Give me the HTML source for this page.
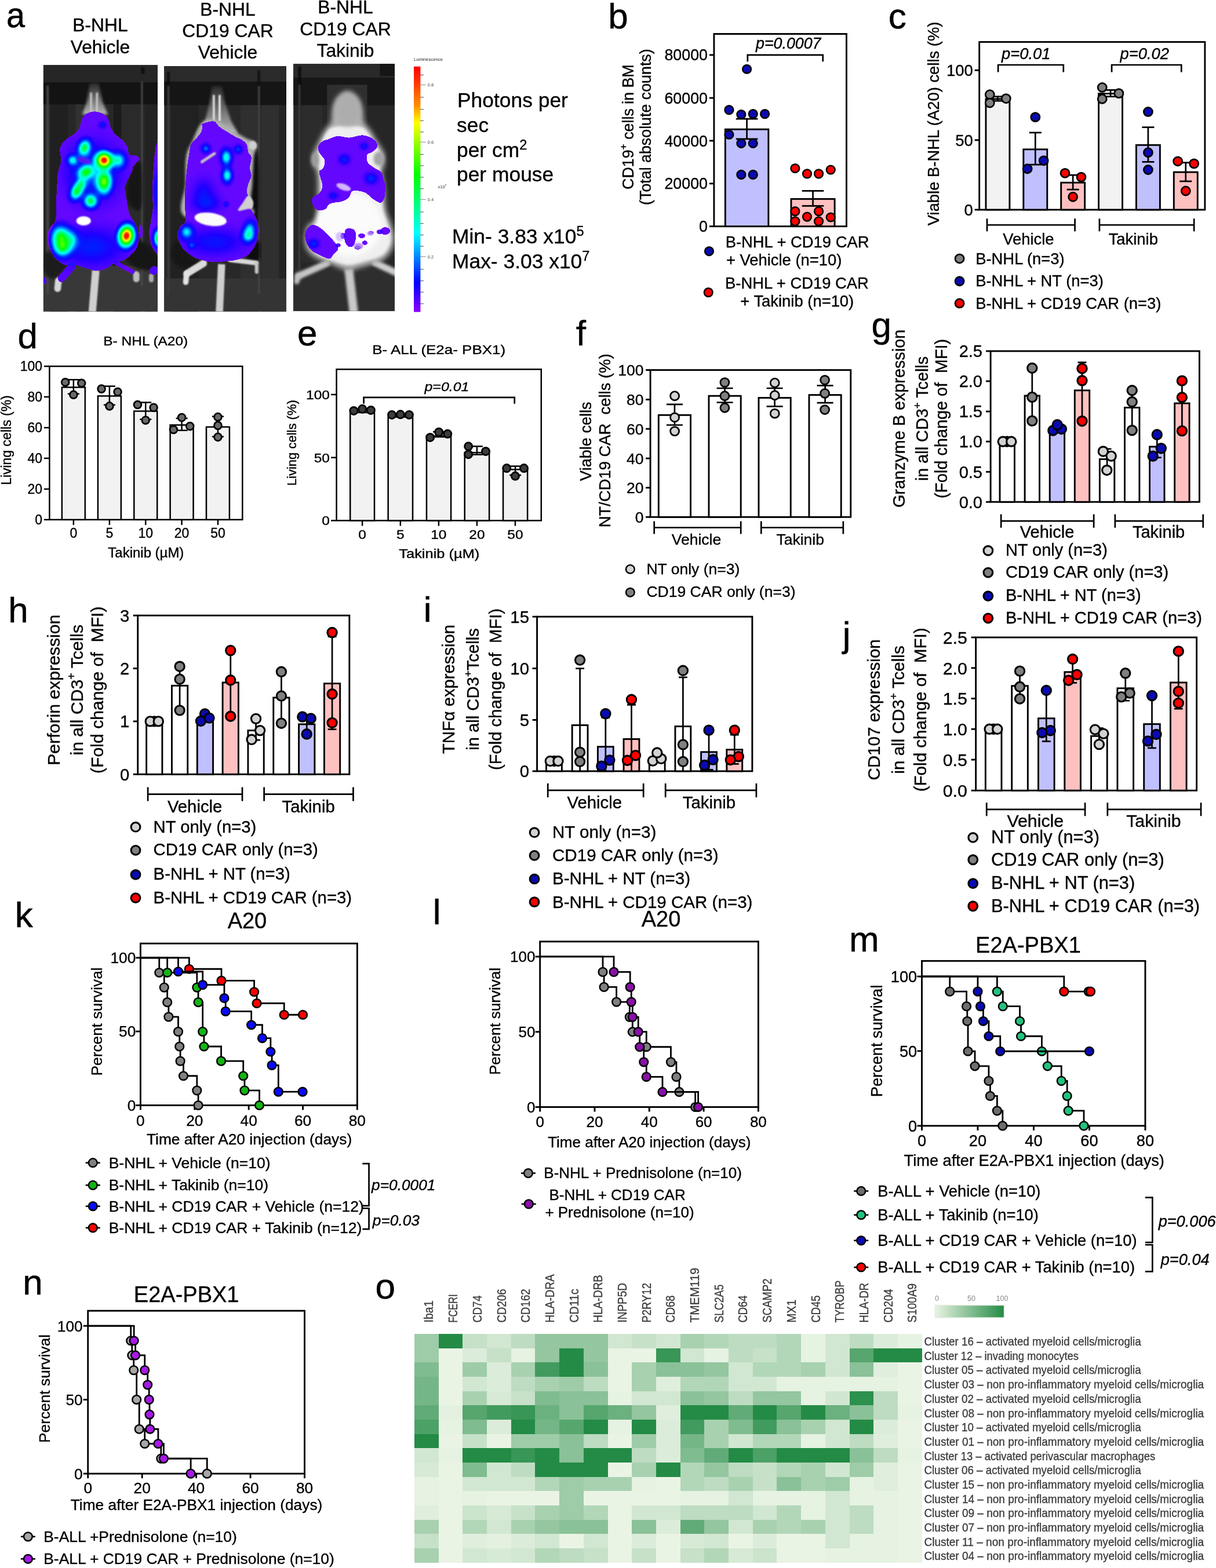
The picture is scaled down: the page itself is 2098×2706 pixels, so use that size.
<!DOCTYPE html>
<html lang="en"><head><meta charset="utf-8"><title>Figure</title>
<style>html,body{margin:0;padding:0;background:#fff}body{width:2098px;height:2706px;overflow:hidden}svg{display:block}text{font-family:"Liberation Sans",sans-serif}</style></head><body>
<svg width="2098" height="2706" viewBox="0 0 2098 2706">
<rect width="2098" height="2706" fill="#fff"/>
<defs>
<filter id="b1" filterUnits="userSpaceOnUse" x="60" y="100" width="640" height="450"><feGaussianBlur stdDeviation="1"/></filter>
<filter id="b2" filterUnits="userSpaceOnUse" x="60" y="100" width="640" height="450"><feGaussianBlur stdDeviation="2.2"/></filter>
<filter id="b3" filterUnits="userSpaceOnUse" x="60" y="100" width="640" height="450"><feGaussianBlur stdDeviation="4"/></filter>
<radialGradient id="hR"><stop offset="0" stop-color="#f00"/><stop offset=".1" stop-color="#ff2000"/><stop offset=".2" stop-color="#ff0"/><stop offset=".33" stop-color="#0f0"/><stop offset=".5" stop-color="#0ff"/><stop offset=".68" stop-color="#0a50ff"/><stop offset=".85" stop-color="#1616ff" stop-opacity=".8"/><stop offset="1" stop-color="#2a14ff" stop-opacity="0"/></radialGradient>
<radialGradient id="hY"><stop offset="0" stop-color="#a0ff00"/><stop offset=".22" stop-color="#0f0"/><stop offset=".45" stop-color="#0ff"/><stop offset=".66" stop-color="#0a50ff"/><stop offset=".85" stop-color="#1616ff" stop-opacity=".8"/><stop offset="1" stop-color="#2a14ff" stop-opacity="0"/></radialGradient>
<radialGradient id="hG"><stop offset="0" stop-color="#0f0"/><stop offset=".2" stop-color="#00ff40"/><stop offset=".42" stop-color="#0ff"/><stop offset=".65" stop-color="#0a50ff"/><stop offset=".85" stop-color="#1616ff" stop-opacity=".8"/><stop offset="1" stop-color="#2a14ff" stop-opacity="0"/></radialGradient>
<radialGradient id="hC"><stop offset="0" stop-color="#0ff"/><stop offset=".22" stop-color="#00c8ff"/><stop offset=".5" stop-color="#0a50ff"/><stop offset=".8" stop-color="#1616ff" stop-opacity=".8"/><stop offset="1" stop-color="#2a14ff" stop-opacity="0"/></radialGradient>
<radialGradient id="hA"><stop offset="0" stop-color="#00a0ff"/><stop offset=".5" stop-color="#0a40ff"/><stop offset="1" stop-color="#1414ff" stop-opacity="0"/></radialGradient>
<radialGradient id="hB"><stop offset="0" stop-color="#0a0aff"/><stop offset=".5" stop-color="#1c10ff" stop-opacity=".9"/><stop offset="1" stop-color="#4010ff" stop-opacity="0"/></radialGradient>
<filter id="cm" filterUnits="userSpaceOnUse" x="60" y="100" width="640" height="450" color-interpolation-filters="sRGB"><feColorMatrix type="matrix" values="0 0 0 1 0  0 0 0 1 0  0 0 0 1 0  0 0 0 1 0"/><feComponentTransfer><feFuncR type="table" tableValues="0.549 0.528 0.507 0.467 0.350 0.234 0.118 0.059 0.000 0.000 0.000 0.000 0.000 0.000 0.000 0.000 0.000 0.000 0.000 0.000 0.000 0.023 0.136 0.250 0.364 0.477 0.591 0.705 0.818 0.932 1.000 1.000 1.000 1.000 1.000 1.000 1.000 1.000 1.000 1.000 1.000"/><feFuncG type="table" tableValues="0.000 0.014 0.028 0.037 0.025 0.012 0.000 0.059 0.118 0.287 0.457 0.627 0.796 0.966 1.000 1.000 1.000 1.000 1.000 1.000 1.000 1.000 1.000 1.000 1.000 1.000 1.000 1.000 1.000 1.000 0.947 0.816 0.684 0.552 0.420 0.289 0.157 0.118 0.078 0.039 0.000"/><feFuncB type="table" tableValues="1.000 1.000 1.000 1.000 1.000 1.000 1.000 1.000 1.000 1.000 1.000 1.000 1.000 1.000 0.895 0.763 0.632 0.500 0.368 0.237 0.105 0.000 0.000 0.000 0.000 0.000 0.000 0.000 0.000 0.000 0.000 0.000 0.000 0.000 0.000 0.000 0.000 0.000 0.000 0.000 0.000"/><feFuncA type="discrete" tableValues="0 0 1 1 1 1 1 1 1 1 1 1 1 1 1 1 1 1 1 1 1 1 1 1 1 1 1 1 1 1 1 1 1 1 1 1 1 1 1 1"/></feComponentTransfer></filter>
<radialGradient id="gw"><stop offset="0" stop-color="#fff" stop-opacity="1"/><stop offset=".1" stop-color="#fff" stop-opacity=".96"/><stop offset=".2" stop-color="#fff" stop-opacity=".84"/><stop offset=".3" stop-color="#fff" stop-opacity=".68"/><stop offset=".4" stop-color="#fff" stop-opacity=".52"/><stop offset=".5" stop-color="#fff" stop-opacity=".38"/><stop offset=".6" stop-color="#fff" stop-opacity=".26"/><stop offset=".7" stop-color="#fff" stop-opacity=".16"/><stop offset=".8" stop-color="#fff" stop-opacity=".09"/><stop offset=".9" stop-color="#fff" stop-opacity=".04"/><stop offset="1" stop-color="#fff" stop-opacity="0"/></radialGradient>
<linearGradient id="cb" x1="0" y1="0" x2="0" y2="1"><stop offset="0" stop-color="#f00"/><stop offset=".06" stop-color="#ff3000"/><stop offset=".16" stop-color="#ff9000"/><stop offset=".23" stop-color="#ff0"/><stop offset=".33" stop-color="#80ff00"/><stop offset=".44" stop-color="#0f0"/><stop offset=".58" stop-color="#00ff90"/><stop offset=".68" stop-color="#0ff"/><stop offset=".78" stop-color="#0080ff"/><stop offset=".88" stop-color="#00f"/><stop offset=".95" stop-color="#5000ff"/><stop offset="1" stop-color="#8c00ff"/></linearGradient>
<linearGradient id="hb" x1="0" y1="0" x2="1" y2="0"><stop offset="0" stop-color="#e8f3e2"/><stop offset="1" stop-color="#238b45"/></linearGradient>
<linearGradient id="ng" x1="0" y1="0" x2="0" y2="1"><stop offset="0" stop-color="#2c2c2c"/><stop offset=".35" stop-color="#5a5a5a"/><stop offset="1" stop-color="#b8b8b8"/></linearGradient>
<clipPath id="c1"><rect x="74.9" y="112.2" width="197" height="425.3"/></clipPath>
<clipPath id="c2"><rect x="283.2" y="114.3" width="210.8" height="423.2"/></clipPath>
<clipPath id="c3"><rect x="506.2" y="110.2" width="174.8" height="426.5"/></clipPath>
</defs>
<text transform="translate(11.08 47.2) scale(0.93 1)" font-size="62" stroke="#000" stroke-width=".5">a</text>
<text x="173" y="53.7" font-size="31.8" stroke="#000" stroke-width="0.35" text-anchor="middle">B-NHL</text>
<text x="173" y="91.8" font-size="31.8" stroke="#000" stroke-width="0.35" text-anchor="middle">Vehicle</text>
<text x="393" y="27" font-size="31.8" stroke="#000" stroke-width="0.35" text-anchor="middle">B-NHL</text>
<text x="393" y="64" font-size="31.8" stroke="#000" stroke-width="0.35" text-anchor="middle">CD19 CAR</text>
<text x="393" y="101" font-size="31.8" stroke="#000" stroke-width="0.35" text-anchor="middle">Vehicle</text>
<text x="596" y="23.3" font-size="31.8" stroke="#000" stroke-width="0.35" text-anchor="middle">B-NHL</text>
<text x="596" y="60.6" font-size="31.8" stroke="#000" stroke-width="0.35" text-anchor="middle">CD19 CAR</text>
<text x="596" y="97.6" font-size="31.8" stroke="#000" stroke-width="0.35" text-anchor="middle">Takinib</text>
<g clip-path="url(#c1)">
<rect x="73.59" y="110.87" width="199.7" height="427.94" fill="#272727"/>
<rect x="73.59" y="110.87" width="199.7" height="31.25" fill="#262626"/>
<rect x="73.59" y="142.11" width="199.7" height="38.04" fill="#131313"/>
<rect x="87.17" y="180.15" width="29.89" height="358.65" fill="#202020" opacity=".85"/>
<rect x="130.64" y="180.15" width="10.87" height="358.65" fill="#343434" opacity=".85"/>
<rect x="195.85" y="180.15" width="13.59" height="358.65" fill="#1a1a1a" opacity=".85"/>
<rect x="209.44" y="180.15" width="32.6" height="358.65" fill="#2c2c2c" opacity=".85"/>
<rect x="250.19" y="180.15" width="23.1" height="358.65" fill="#222" opacity=".85"/>
<rect x="73.59" y="458.65" width="199.7" height="80.15" fill="#383838"/>
<rect x="80.11" y="147.55" width="4.08" height="360.01" fill="#454545" filter="url(#b1)"/>
<rect x="243.4" y="140.76" width="2.99" height="353.22" fill="#484848" filter="url(#b1)"/>
<rect x="243.4" y="116.3" width="5.71" height="10.87" fill="#0c0c0c" filter="url(#b1)"/>
<path d="M216.23 439.55C216.68 431.63 230.04 414.64 239.33 415.1C248.61 415.55 266.5 434.12 271.93 442.27C277.37 450.42 277.82 460.61 271.93 464C266.04 467.4 245.89 466.72 236.61 462.65C227.33 458.57 215.78 447.48 216.23 439.55Z" fill="#141414" filter="url(#b2)"/>
<path d="M76.3 435.48C79.47 430.95 88.98 438.42 95.32 442.27C101.66 446.12 114.57 452.23 114.34 458.57C114.11 464.91 100.3 478.5 93.96 480.31C87.62 482.12 79.25 476.91 76.3 469.44C73.36 461.97 73.13 440 76.3 435.48Z" fill="#1a1a1a" filter="url(#b2)"/>
<path d="M229.82 290.19C233.78 283.4 240.57 272.08 242.72 283.4C244.87 294.72 246.01 346.8 242.72 358.12C239.44 369.44 226.99 356.99 223.02 351.33C219.06 345.67 217.82 334.35 218.95 324.16C220.08 313.97 225.85 296.99 229.82 290.19Z" fill="#121212" filter="url(#b2)"/>
<path d="M155.1 143.47L170.04 143.47L176.83 176.08L186.34 197.81L141.51 197.81L149.66 176.08Z" fill="url(#ng)" filter="url(#b2)"/>
<rect x="155.37" y="159.78" width="3.53" height="33.96" fill="#c4c4c4" filter="url(#b1)"/>
<rect x="165.56" y="159.78" width="3.53" height="33.96" fill="#c4c4c4" filter="url(#b1)"/>
<line x1="100.76" y1="484.38" x2="99.4" y2="497.97" stroke="#d8d8d8" stroke-width="11.55" stroke-linecap="round" filter="url(#b1)"/>
<line x1="235.25" y1="473.51" x2="235.25" y2="481.67" stroke="#bdbdbd" stroke-width="10.87" stroke-linecap="round" filter="url(#b1)"/>
<line x1="165.29" y1="466.72" x2="159.17" y2="538.72" stroke="#cfcfcf" stroke-width="12.91" stroke-linecap="butt" filter="url(#b1)"/>
<line x1="261.06" y1="476.23" x2="261.06" y2="483.02" stroke="#aaa" stroke-width="8.15" stroke-linecap="round" filter="url(#b1)"/>
<g filter="url(#cm)">
<path d="M274.65 246.72C273.4 215.48 271.25 245.59 269.89 249.44C268.54 253.29 267.47 260.76 266.5 269.82C265.52 278.87 264.69 293.59 264.05 303.78C263.42 313.97 262.74 321.89 262.69 330.95C262.65 340.01 264.28 349.06 263.78 358.12C263.28 367.18 260.79 377.82 259.7 385.29C258.62 392.76 257.03 396.61 257.26 402.95C257.49 409.29 259.07 417.9 261.06 423.33C263.06 428.77 266.5 433.29 269.21 435.56C271.93 437.82 276.46 468.39 277.37 436.92C278.27 405.44 275.89 277.97 274.65 246.72Z" fill="#fff" fill-opacity="0.09"/>
<ellipse cx="273.97" cy="411.1" rx="14.94" ry="25.81" fill="url(#gw)" opacity="0.5"/>
<ellipse cx="271.93" cy="330.95" rx="12.23" ry="67.93" fill="url(#gw)" opacity="0.12"/>
<circle cx="265.82" cy="466.72" r="7.47" fill="#fff" fill-opacity=".11"/>
<ellipse cx="76.57" cy="484.38" rx="3.8" ry="5.43" fill="#fff" fill-opacity=".11"/>
<path d="M164.61 192.38C170.49 192.61 178.19 196 182.27 199.17C186.34 202.34 187.59 208 189.06 211.4C190.53 214.8 189.97 216.83 191.1 219.55C192.23 222.27 193.7 224.99 195.85 227.7C198 230.42 201.06 233.14 204 235.85C206.95 238.57 210.8 240.83 213.51 244C216.23 247.17 218.72 251.02 220.31 254.87C221.89 258.72 220.76 264.95 223.02 267.1C225.29 269.25 230.95 266.53 233.89 267.78C236.84 269.02 240.46 272.42 240.69 274.57C240.91 276.72 237.06 278.53 235.25 280.69C233.44 282.84 231.18 284.76 229.82 287.48C228.46 290.19 228.68 293.14 227.1 296.99C225.51 300.84 222.34 306.04 220.31 310.57C218.27 315.1 215.55 320.76 214.87 324.16C214.19 327.55 215.55 327.1 216.23 330.95C216.91 334.8 217.82 341.14 218.95 347.25C220.08 353.37 220.53 360.84 223.02 367.63C225.51 374.42 231.18 381.22 233.89 388.01C236.61 394.8 239.1 401.59 239.33 408.39C239.55 415.18 237.97 423.1 235.25 428.77C232.53 434.43 227.33 438.73 223.02 442.35C218.72 445.97 213.97 448.46 209.44 450.5C204.91 452.54 200.38 452.31 195.85 454.58C191.33 456.84 187.48 462.05 182.27 464.09C177.06 466.13 170.27 467.03 164.61 466.8C158.95 466.58 153.97 464.31 148.3 462.73C142.64 461.14 136.3 458.2 130.64 457.29C124.98 456.39 118.64 457.97 114.34 457.29C110.04 456.62 108.68 456.16 104.83 453.22C100.98 450.28 94.64 445.97 91.25 439.63C87.85 433.29 85.13 421.97 84.45 415.18C83.77 408.39 85.25 404.99 87.17 398.88C89.1 392.76 94.42 387.1 96 378.5C97.59 369.9 96.34 355.34 96.68 347.25C97.02 339.17 97.59 337.25 98.04 330C98.49 322.75 98.72 310.41 99.4 303.78C100.08 297.15 101.1 294.72 102.11 290.19C103.13 285.67 105.28 282.27 105.51 276.61C105.74 270.95 102.45 261.89 103.47 256.23C104.49 250.57 107.1 247.17 111.62 242.65C116.15 238.12 126.34 232.91 130.64 229.06C134.95 225.21 135.85 222.95 137.44 219.55C139.02 216.15 138.57 212.31 140.15 208.68C141.74 205.06 142.87 200.53 146.95 197.81C151.02 195.1 158.72 192.15 164.61 192.38Z" fill="#fff" fill-opacity="0.09"/>
<line x1="123.85" y1="459.93" x2="106.19" y2="480.31" stroke="#fff" stroke-width="12.91" stroke-linecap="round" stroke-opacity="0.1"/>
<line x1="201.29" y1="454.49" x2="228.46" y2="468.76" stroke="#fff" stroke-width="7.47" stroke-linecap="round" stroke-opacity="0.09"/>
<line x1="242.72" y1="390.64" x2="243.4" y2="406.95" stroke="#fff" stroke-width="5.43" stroke-linecap="round" stroke-opacity="0.09"/>
<ellipse cx="160.53" cy="296.99" rx="76.08" ry="84.23" fill="url(#gw)" opacity="0.17"/>
<ellipse cx="157.81" cy="426.05" rx="97.81" ry="57.06" fill="url(#gw)" opacity="0.12"/>
<ellipse cx="176.83" cy="215.48" rx="12.91" ry="10.87" fill="url(#gw)" opacity="0.1"/>
<ellipse cx="204" cy="276.61" rx="22.82" ry="24.32" fill="url(#gw)" opacity="0.28"/>
<ellipse cx="145.59" cy="254.87" rx="18.2" ry="24.32" fill="url(#gw)" transform="rotate(20 145.59 254.87)" opacity="0.4"/>
<ellipse cx="179.55" cy="276.61" rx="23.1" ry="23.1" fill="url(#gw)" opacity="0.97"/>
<ellipse cx="125.21" cy="276.61" rx="16.03" ry="16.03" fill="url(#gw)" opacity="0.25"/>
<ellipse cx="148.3" cy="296.99" rx="24.32" ry="17.53" fill="url(#gw)" transform="rotate(-22 148.3 296.99)" opacity="0.4"/>
<ellipse cx="179.55" cy="313.97" rx="21.33" ry="33.42" fill="url(#gw)" opacity="0.54"/>
<ellipse cx="140.15" cy="317.37" rx="15.22" ry="21.33" fill="url(#gw)" transform="rotate(25 140.15 317.37)" opacity="0.25"/>
<ellipse cx="132" cy="330.95" rx="17.53" ry="25.13" fill="url(#gw)" transform="rotate(25 132 330.95)" opacity="0.4"/>
<ellipse cx="156.46" cy="347.17" rx="20.51" ry="20.51" fill="url(#gw)" opacity="0.4"/>
<ellipse cx="104.83" cy="408.3" rx="28.94" ry="33.42" fill="url(#gw)" transform="rotate(-8 104.83 408.3)" opacity="0.42"/>
<ellipse cx="107.55" cy="425.97" rx="25.81" ry="28.94" fill="url(#gw)" transform="rotate(-8 107.55 425.97)" opacity="0.42"/>
<ellipse cx="123.85" cy="413.74" rx="22.82" ry="28.94" fill="url(#gw)" opacity="0.18"/>
<ellipse cx="218.27" cy="406.95" rx="22.82" ry="30.43" fill="url(#gw)" transform="rotate(8 218.27 406.95)" opacity="0.97"/>
</g>
<ellipse cx="144.91" cy="276.61" rx="12.91" ry="5.43" fill="#6414f0" transform="rotate(15 144.91 276.61)" filter="url(#b1)" opacity=".85"/>
<ellipse cx="144.23" cy="381.13" rx="12.5" ry="7.88" fill="#fff" filter="url(#b1)"/>
</g>
<g clip-path="url(#c2)">
<rect x="281.79" y="112.91" width="213.97" height="425.9" fill="#282828"/>
<rect x="281.79" y="112.91" width="213.97" height="27.85" fill="#2b2b2b"/>
<rect x="281.79" y="140.76" width="213.97" height="40.76" fill="#151515"/>
<rect x="295.38" y="181.51" width="47.55" height="357.29" fill="#202020" opacity=".85"/>
<rect x="414.93" y="181.51" width="29.89" height="357.29" fill="#303030" opacity=".85"/>
<rect x="450.25" y="181.51" width="31.25" height="357.29" fill="#303030" opacity=".85"/>
<rect x="481.5" y="181.51" width="14.26" height="357.29" fill="#242424" opacity=".85"/>
<rect x="281.79" y="480.39" width="213.97" height="58.42" fill="#343434"/>
<rect x="288.99" y="147.55" width="3.4" height="360.01" fill="#3c3c3c" filter="url(#b1)"/>
<rect x="288.59" y="124.45" width="4.08" height="23.1" fill="#0c0c0c" filter="url(#b1)"/>
<rect x="445.09" y="147.55" width="3.26" height="360.01" fill="#444" filter="url(#b1)"/>
<rect x="444.82" y="121.74" width="3.8" height="25.81" fill="#0c0c0c" filter="url(#b1)"/>
<path d="M428.51 269.82C431.91 257.36 442.1 250.57 444.82 269.82C447.53 289.06 446.4 369.44 444.82 385.29C443.23 401.14 438.7 371.71 435.31 364.91C431.91 358.12 425.57 360.39 424.44 344.54C423.31 328.69 425.12 282.27 428.51 269.82Z" fill="#101010" filter="url(#b2)"/>
<path d="M424.44 442.27C424.44 436.61 442.55 413.97 446.18 415.1C449.8 416.23 449.8 444.53 446.18 449.06C442.55 453.59 424.44 447.93 424.44 442.27Z" fill="#111" filter="url(#b2)"/>
<path d="M306.25 415.1C311.91 415.1 323.23 435.48 329.34 442.27C335.45 449.06 345.19 452.46 342.93 455.85C340.66 459.25 323.68 464.91 315.76 462.65C307.83 460.38 296.96 450.19 295.38 442.27C293.79 434.34 300.59 415.1 306.25 415.1Z" fill="#161616" filter="url(#b2)"/>
<path d="M366.02 148.91L382.32 148.91L387.76 176.08L398.63 208.68L410.85 230.42L340.21 230.42L353.8 208.68L361.95 176.08Z" fill="url(#ng)" filter="url(#b2)"/>
<rect x="367.11" y="163.85" width="3.53" height="44.83" fill="#e0e0e0" filter="url(#b1)"/>
<rect x="377.16" y="163.85" width="3.53" height="44.83" fill="#ececec" filter="url(#b1)"/>
<path d="M348.36 211.4C354.7 205.51 361.95 205.51 370.1 207.32C378.25 209.14 388.21 217.06 397.27 222.27C406.33 227.48 417.65 234.95 424.44 238.57C431.23 242.19 434.85 241.74 438.02 244C441.19 246.27 443.46 247.85 443.46 252.16C443.46 256.46 439.38 258.95 438.02 269.82C436.67 280.69 436.44 302.65 435.31 317.37C434.18 332.08 430.78 350.89 431.23 358.12C431.68 365.35 439.16 358.05 438.02 360.76C436.89 363.46 444.14 372.08 424.44 374.34C404.74 376.61 337.27 383.84 319.83 374.34C302.4 364.85 319.61 334.79 319.83 317.37C320.06 299.94 319.15 282.27 321.19 269.82C323.23 257.36 327.53 252.38 332.06 242.65C336.59 232.91 342.02 217.29 348.36 211.4Z" fill="#b0b0b0" filter="url(#b2)"/>
<ellipse cx="435.99" cy="250.8" rx="6.79" ry="7.47" fill="#d0d0d0" filter="url(#b1)"/>
<line x1="351.08" y1="454.49" x2="322.55" y2="472.16" stroke="#dadada" stroke-width="12.23" stroke-linecap="round" filter="url(#b1)"/>
<line x1="321.87" y1="472.16" x2="320.51" y2="487.1" stroke="#e2e2e2" stroke-width="9.51" stroke-linecap="round" filter="url(#b1)"/>
<line x1="397.27" y1="448.38" x2="441.42" y2="453.82" stroke="#d8d8d8" stroke-width="8.15" stroke-linecap="round" filter="url(#b1)"/>
<line x1="442.78" y1="453.82" x2="442.78" y2="469.44" stroke="#c4c4c4" stroke-width="6.11" stroke-linecap="round" filter="url(#b1)"/>
<line x1="382.32" y1="455.85" x2="378.52" y2="538.72" stroke="#cecece" stroke-width="12.5" stroke-linecap="butt" filter="url(#b1)"/>
<g filter="url(#cm)">
<path d="M349.72 213.44C353 211.85 363.98 208.52 368.74 209.36C373.49 210.2 374.63 215.59 378.25 218.46C381.87 221.34 386.17 223.9 390.48 226.62C394.78 229.33 399.53 232.28 404.06 234.77C408.59 237.26 414.02 239.11 417.65 241.56C421.27 244 423.99 245.86 425.8 249.44C427.61 253.02 427.2 259.36 428.51 263.02C429.83 266.69 433.22 266.92 433.68 271.45C434.13 275.98 431.23 284.81 431.23 290.19C431.23 295.58 434.13 299.25 433.68 303.78C433.22 308.31 429.83 312.84 428.51 317.37C427.2 321.89 425.91 327.55 425.8 330.95C425.68 334.35 428.06 335.04 427.84 337.74C427.61 340.45 423.19 342.66 424.44 347.17C425.68 351.69 432.14 359.17 435.31 364.83C438.48 370.49 441.76 375.02 443.46 381.13C445.16 387.25 445.95 394.72 445.5 401.51C445.04 408.3 443.57 415.55 440.74 421.89C437.91 428.23 433.5 435.25 428.51 439.55C423.53 443.85 417.19 445.85 410.85 447.7C404.51 449.56 397.27 449.97 390.48 450.69C383.68 451.42 376.89 452.28 370.1 452.05C363.3 451.82 356.06 450.96 349.72 449.33C343.38 447.7 337.72 445.71 332.06 442.27C326.4 438.83 319.83 433.66 315.76 428.68C311.68 423.7 309.19 416.91 307.6 412.38C306.02 407.85 305.34 405.13 306.25 401.51C307.15 397.89 310.77 394.04 313.04 390.64C315.3 387.25 318.88 388.38 319.83 381.13C320.78 373.89 318.74 357.36 318.74 347.17C318.74 336.98 319.2 329.5 319.83 320C320.47 310.5 321.42 299.69 322.55 290.19C323.68 280.7 325.49 269.82 326.62 263.02C327.76 256.23 327.3 253.51 329.34 249.44C331.38 245.36 335.91 242.19 338.85 238.57C341.79 234.95 345.3 230.99 347 227.7C348.7 224.42 348.59 221.25 349.04 218.87C349.49 216.49 346.44 215.02 349.72 213.44Z" fill="#fff" fill-opacity="0.09"/>
<ellipse cx="356.51" cy="351.33" rx="44.83" ry="27.17" fill="url(#gw)" opacity="0.09"/>
<ellipse cx="351.08" cy="330.95" rx="35.32" ry="40.76" fill="url(#gw)" opacity="0.08"/>
<ellipse cx="370.1" cy="417.81" rx="92.38" ry="40.76" fill="url(#gw)" opacity="0.1"/>
<ellipse cx="410.85" cy="257.59" rx="13.59" ry="13.59" fill="url(#gw)" opacity="0.14"/>
<ellipse cx="355.15" cy="256.23" rx="14.26" ry="14.26" fill="url(#gw)" opacity="0.17"/>
<ellipse cx="390.48" cy="271.45" rx="16.98" ry="25.13" fill="url(#gw)" opacity="0.3"/>
<ellipse cx="391.83" cy="302.69" rx="15.62" ry="23.1" fill="url(#gw)" opacity="0.3"/>
<ellipse cx="390.48" cy="352.6" rx="8.15" ry="8.15" fill="url(#gw)" opacity="0.1"/>
<ellipse cx="321.87" cy="400.15" rx="20.38" ry="21.74" fill="url(#gw)" opacity="0.25"/>
<ellipse cx="330.7" cy="423.25" rx="10.87" ry="10.87" fill="url(#gw)" opacity="0.12"/>
<ellipse cx="431.23" cy="393.36" rx="19.02" ry="24.45" fill="url(#gw)" transform="rotate(12 431.23 393.36)" opacity="0.2"/>
<ellipse cx="428.51" cy="406.95" rx="19.02" ry="21.06" fill="url(#gw)" transform="rotate(12 428.51 406.95)" opacity="0.28"/>
</g>
<line x1="370.1" y1="265.06" x2="348.36" y2="279.33" stroke="#c4c4c4" stroke-width="4.89" stroke-linecap="round" filter="url(#b1)"/>
<path d="M428.51 337.66C425.57 338.11 421.95 345.59 419 349.89C416.06 354.19 409.49 361.66 410.85 363.47C412.21 365.28 423.08 361.44 427.16 360.76C431.23 360.08 433.72 361.66 435.31 359.4C436.89 357.13 437.8 350.79 436.67 347.17C435.53 343.55 431.46 337.21 428.51 337.66Z" fill="#d0d0d0" filter="url(#b1)"/>
<ellipse cx="363.3" cy="378.42" rx="27.85" ry="11.14" fill="#fbfbfb" transform="rotate(8 363.3 378.42)" filter="url(#b1)"/>
</g>
<g clip-path="url(#c3)">
<rect x="505.13" y="108.83" width="177.29" height="429.3" fill="#262626"/>
<rect x="505.13" y="108.83" width="177.29" height="25.13" fill="#2a2a2a"/>
<rect x="655.25" y="108.83" width="27.17" height="22.42" fill="#161616"/>
<rect x="505.13" y="133.96" width="177.29" height="47.55" fill="#171717"/>
<rect x="564.23" y="146.19" width="69.29" height="89.66" fill="#363636" opacity=".8"/>
<rect x="520.76" y="181.51" width="35.32" height="271.71" fill="#2e2e2e" opacity=".8"/>
<rect x="505.13" y="464.09" width="177.29" height="74.04" fill="#2e2e2e"/>
<rect x="514.64" y="114.94" width="4.75" height="31.25" fill="#0a0a0a" filter="url(#b1)"/>
<rect x="515.05" y="146.19" width="2.99" height="334.2" fill="#3c3c3c" filter="url(#b1)"/>
<line x1="564.23" y1="454.49" x2="515.32" y2="476.23" stroke="#c6c6c6" stroke-width="11.55" stroke-linecap="round" filter="url(#b2)"/>
<line x1="513.96" y1="476.23" x2="511.93" y2="485.74" stroke="#c0c0c0" stroke-width="9.51" stroke-linecap="round" filter="url(#b2)"/>
<line x1="647.1" y1="453.82" x2="683.78" y2="470.8" stroke="#cdcdcd" stroke-width="11.55" stroke-linecap="round" filter="url(#b2)"/>
<line x1="601.59" y1="464" x2="610.42" y2="540.08" stroke="#c8c8c8" stroke-width="14.94" stroke-linecap="butt" filter="url(#b2)"/>
<path d="M599.55 157.06C594.12 157.06 587.32 162.72 583.25 167.93C579.17 173.13 577.14 181.06 575.1 188.3C573.06 195.55 573.29 205.74 571.02 211.4C568.76 217.06 564.91 217.06 561.51 222.27C558.12 227.48 554.27 235.17 550.64 242.65C547.02 250.12 541.59 260.31 539.78 267.1C537.96 273.89 538.64 278.42 539.78 283.4C540.91 288.38 545.21 290.87 546.57 296.99C547.93 303.1 547.93 309.45 547.93 320.08C547.93 330.71 547.25 351.03 546.57 360.76C545.89 370.48 546.57 373.44 543.85 378.42C541.13 383.4 533.32 384.98 530.27 390.64C527.21 396.3 525.51 405.59 525.51 412.38C525.51 419.17 526.98 425.97 530.27 431.4C533.55 436.83 539.55 441.36 545.21 444.99C550.87 448.61 557.89 450.42 564.23 453.14C570.57 455.85 577.14 459.02 583.25 461.29C589.36 463.55 595.02 466.5 600.91 466.72C606.8 466.95 611.55 464.46 618.57 462.65C625.59 460.83 636.01 458.12 643.02 455.85C650.04 453.59 655.25 453.14 660.69 449.06C666.12 444.99 672.35 437.97 675.63 431.4C678.91 424.83 680.38 416.91 680.38 409.66C680.38 402.42 678.01 396.08 675.63 387.93C673.25 379.78 668.16 372.06 666.12 360.76C664.08 349.45 664.53 330.71 663.4 320.08C662.27 309.45 659.33 303.1 659.33 296.99C659.33 290.87 662.95 289.06 663.4 283.4C663.86 277.74 664.31 269.82 662.04 263.02C659.78 256.23 653.89 249.44 649.82 242.65C645.74 235.85 641.21 227.48 637.59 222.27C633.97 217.06 630.34 217.06 628.08 211.4C625.82 205.74 626.04 195.55 624 188.3C621.97 181.06 619.93 173.13 615.85 167.93C611.78 162.72 604.99 157.06 599.55 157.06Z" fill="#b4b4b4" filter="url(#b3)"/>
<path d="M599.55 216.83C591.4 216.83 580.98 217.74 575.1 219.55C569.21 221.36 567.4 223.85 564.23 227.7C561.06 231.55 558.8 236.08 556.08 242.65C553.36 249.21 548.83 259.18 547.93 267.1C547.02 275.02 549.74 281.36 550.64 290.19C551.55 299.03 553.13 308.32 553.36 320.08C553.59 331.84 552.68 350.58 552 360.76C551.32 370.93 551.78 375.7 549.29 381.13C546.79 386.57 539.78 388.15 537.06 393.36C534.34 398.57 532.98 406.49 532.98 412.38C532.98 418.27 534.11 423.93 537.06 428.68C540 433.44 544.3 437.29 550.64 440.91C556.98 444.53 566.72 447.7 575.1 450.42C583.48 453.14 592.31 456.99 600.91 457.21C609.51 457.44 617.44 454.27 626.72 451.78C636.01 449.29 649.36 446.34 656.61 442.27C663.86 438.19 667.25 432.76 670.19 427.32C673.14 421.89 674.27 415.78 674.27 409.66C674.27 403.55 672.46 398.8 670.19 390.64C667.93 382.49 662.72 372.52 660.69 360.76C658.65 349 658.87 331.84 657.97 320.08C657.06 308.32 655.48 299.03 655.25 290.19C655.02 281.36 658.42 274.8 656.61 267.1C654.8 259.4 648.23 250.57 644.38 244C640.53 237.44 636.91 231.78 633.51 227.7C630.12 223.63 629.67 221.36 624 219.55C618.34 217.74 607.7 216.83 599.55 216.83Z" fill="#efefef" filter="url(#b2)"/>
<ellipse cx="599.55" cy="189.66" rx="23.77" ry="28.53" fill="#adadad" filter="url(#b3)"/>
<ellipse cx="602.27" cy="387.93" rx="57.06" ry="54.34" fill="#fbfbfb" filter="url(#b3)"/>
<ellipse cx="543.85" cy="275.25" rx="6.79" ry="12.23" fill="#9c9c9c" filter="url(#b2)"/>
<ellipse cx="653.89" cy="273.89" rx="9.51" ry="12.23" fill="#a4a4a4" filter="url(#b2)"/>
<g filter="url(#cm)">
<path d="M566.95 239.93C571.47 238.39 577.36 235.17 583.25 234.77C589.14 234.36 595.7 237.71 602.27 237.48C608.83 237.26 616.99 233.68 622.65 233.41C628.31 233.14 631.93 234.09 636.23 235.85C640.53 237.62 646.01 241.06 648.46 244C650.9 246.95 651.81 250.57 650.9 253.51C650 256.46 645.92 259.36 643.02 261.67C640.13 263.98 634.87 264.2 633.51 267.37C632.16 270.54 632.61 276.88 634.87 280.69C637.14 284.49 643.25 287.48 647.1 290.19C650.95 292.91 655.48 293.59 657.97 296.99C660.46 300.38 660.91 306.74 662.04 310.57C663.18 314.41 664.53 315.03 664.76 320C664.99 324.97 664.76 335.4 663.4 340.38C662.04 345.36 660.01 349.43 656.61 349.89C653.21 350.34 647.55 346.04 643.02 343.1C638.5 340.15 635.1 334.49 629.44 332.23C623.78 329.96 613.59 328.15 609.06 329.51C604.53 330.87 605.21 337.43 602.27 340.38C599.32 343.32 596.83 345.31 591.4 347.17C585.97 349.03 574.64 349.25 569.66 351.52C564.68 353.78 565.13 358.94 561.51 360.76C557.89 362.57 551.78 363.97 547.93 362.39C544.08 360.8 539.78 354.91 538.42 351.25C537.06 347.58 537.74 343.32 539.78 340.38C541.81 337.43 547.93 336.98 550.64 333.59C553.36 330.19 556.08 326.1 556.08 320C556.08 313.9 550.42 301.96 550.64 296.99C550.87 292.02 555.85 293.59 557.44 290.19C559.02 286.8 561.29 281.14 560.15 276.61C559.02 272.08 552.46 267.1 550.64 263.02C548.83 258.95 548.38 255.33 549.29 252.16C550.19 248.99 553.13 246.04 556.08 244C559.02 241.97 562.42 241.47 566.95 239.93Z" fill="#fff" fill-opacity="0.09"/>
<path d="M538.42 387.93C542.27 386.79 546.34 389.47 550.64 392C554.95 394.54 560.15 399.29 564.23 403.14C568.3 406.99 571.88 410.84 575.1 415.1C578.31 419.35 583.52 424.61 583.52 428.68C583.52 432.76 577.63 436.56 575.1 439.55C572.56 442.54 571.93 446.34 568.3 446.62C564.68 446.89 558.57 443.67 553.36 441.18C548.15 438.69 541.36 436.02 537.06 431.67C532.76 427.32 529.13 420.58 527.55 415.1C525.96 409.62 525.74 403.32 527.55 398.8C529.36 394.27 534.57 389.06 538.42 387.93Z" fill="#fff" fill-opacity="0.09"/>
<path d="M598.19 394.72C600.91 393.36 607.7 394.04 610.42 396.08C613.14 398.12 614.49 402.42 614.49 406.95C614.49 411.47 612.46 420.08 610.42 423.25C608.38 426.42 604.76 426.87 602.27 425.97C599.78 425.06 596.83 421.44 595.48 417.81C594.12 414.19 593.66 408.08 594.12 404.23C594.57 400.38 595.48 396.08 598.19 394.72Z" fill="#fff" fill-opacity="0.09"/>
<ellipse cx="664.76" cy="398.52" rx="8.42" ry="6.52" fill="#fff" fill-opacity=".085"/>
<ellipse cx="624" cy="406.95" rx="6.11" ry="4.08" fill="#fff" fill-opacity=".085"/>
<ellipse cx="629.44" cy="419.17" rx="4.75" ry="3.8" fill="#fff" fill-opacity=".085"/>
<ellipse cx="640.31" cy="401.51" rx="4.35" ry="2.72" fill="#fff" fill-opacity=".085"/>
<ellipse cx="617.21" cy="427.32" rx="5.43" ry="3.4" fill="#fff" fill-opacity=".085"/>
<ellipse cx="591.4" cy="406.95" rx="4.08" ry="5.43" fill="#fff" fill-opacity=".085"/>
<ellipse cx="583.25" cy="423.25" rx="4.75" ry="3.4" fill="#fff" fill-opacity=".085"/>
<ellipse cx="655.25" cy="400.15" rx="5.43" ry="4.08" fill="#fff" fill-opacity=".085"/>
<ellipse cx="594.12" cy="275.25" rx="17.66" ry="15.62" fill="url(#gw)" opacity="0.12"/>
<ellipse cx="628.08" cy="252.16" rx="12.91" ry="11.55" fill="url(#gw)" opacity="0.1"/>
<ellipse cx="640.31" cy="307.86" rx="20.38" ry="17.66" fill="url(#gw)" opacity="0.13"/>
<ellipse cx="575.1" cy="337.66" rx="14.94" ry="11.55" fill="url(#gw)" opacity="0.1"/>
<ellipse cx="541.13" cy="420.53" rx="16.3" ry="14.26" fill="url(#gw)" opacity="0.13"/>
</g>
<ellipse cx="638.95" cy="402.87" rx="5.43" ry="3.4" fill="#a878f5" filter="url(#b1)"/>
<ellipse cx="618.57" cy="424.61" rx="8.15" ry="5.43" fill="#a878f5" filter="url(#b1)" opacity=".8"/>
<ellipse cx="585.97" cy="408.3" rx="6.79" ry="8.15" fill="#c0a0f8" filter="url(#b1)" opacity=".6"/>
<ellipse cx="592.76" cy="322.72" rx="12.91" ry="5.43" fill="#e6d4ff" transform="rotate(20 592.76 322.72)" filter="url(#b1)" opacity=".85"/>
</g>
<rect x="714" y="114.8" width="11.4" height="423.6" fill="url(#cb)"/>
<line x1="724.9" y1="129.47" x2="730.9" y2="129.47" stroke="#333" stroke-width="0.9"/>
<line x1="724.9" y1="146.59" x2="734.4" y2="146.59" stroke="#777" stroke-width="0.9"/>
<line x1="724.9" y1="167.83" x2="730.9" y2="167.83" stroke="#333" stroke-width="0.9"/>
<line x1="724.9" y1="188.72" x2="730.9" y2="188.72" stroke="#333" stroke-width="0.9"/>
<line x1="724.9" y1="208.24" x2="730.9" y2="208.24" stroke="#333" stroke-width="0.9"/>
<line x1="724.9" y1="227.77" x2="730.9" y2="227.77" stroke="#333" stroke-width="0.9"/>
<line x1="724.9" y1="245.24" x2="734.4" y2="245.24" stroke="#777" stroke-width="0.9"/>
<line x1="724.9" y1="266.47" x2="730.9" y2="266.47" stroke="#333" stroke-width="0.9"/>
<line x1="724.9" y1="285.99" x2="730.9" y2="285.99" stroke="#333" stroke-width="0.9"/>
<line x1="724.9" y1="305.86" x2="730.9" y2="305.86" stroke="#333" stroke-width="0.9"/>
<line x1="724.9" y1="325.72" x2="730.9" y2="325.72" stroke="#333" stroke-width="0.9"/>
<line x1="724.9" y1="344.22" x2="734.4" y2="344.22" stroke="#777" stroke-width="0.9"/>
<line x1="724.9" y1="365.8" x2="730.9" y2="365.8" stroke="#333" stroke-width="0.9"/>
<line x1="724.9" y1="385.66" x2="730.9" y2="385.66" stroke="#333" stroke-width="0.9"/>
<line x1="724.9" y1="405.53" x2="730.9" y2="405.53" stroke="#333" stroke-width="0.9"/>
<line x1="724.9" y1="425.05" x2="730.9" y2="425.05" stroke="#333" stroke-width="0.9"/>
<line x1="724.9" y1="442.86" x2="734.4" y2="442.86" stroke="#777" stroke-width="0.9"/>
<line x1="724.9" y1="464.78" x2="730.9" y2="464.78" stroke="#333" stroke-width="0.9"/>
<line x1="724.9" y1="484.65" x2="730.9" y2="484.65" stroke="#333" stroke-width="0.9"/>
<line x1="724.9" y1="504.17" x2="730.9" y2="504.17" stroke="#333" stroke-width="0.9"/>
<line x1="724.9" y1="524.04" x2="730.9" y2="524.04" stroke="#333" stroke-width="0.9"/>
<text x="737.63" y="149.29" font-size="7.5" fill="#444">0.8</text>
<text x="737.63" y="247.94" font-size="7.5" fill="#444">0.6</text>
<text x="737.63" y="346.92" font-size="7.5" fill="#444">0.4</text>
<text x="737.63" y="445.56" font-size="7.5" fill="#444">0.2</text>
<text x="714" y="104.5" font-size="8" fill="#222" textLength="50" lengthAdjust="spacingAndGlyphs">Luminescence</text>
<text x="755.5" y="324.5" font-size="7.5" fill="#333">x10<tspan font-size="5" dy="-3">7</tspan></text>
<text x="789" y="185" font-size="35.4" stroke="#000" stroke-width="0.35">Photons per</text>
<text x="788" y="227.8" font-size="35.4" stroke="#000" stroke-width="0.35">sec</text>
<text x="788" y="270.6" font-size="35.4" stroke="#000" stroke-width="0.35">per cm<tspan font-size="23.5" dy="-13">2</tspan></text>
<text x="788" y="312.8" font-size="35.4" stroke="#000" stroke-width="0.35">per mouse</text>
<text x="780" y="419.7" font-size="35.4" stroke="#000" stroke-width="0.35">Min- 3.83 x10<tspan font-size="23.5" dy="-13">5</tspan></text>
<text x="780" y="462.5" font-size="35.4" stroke="#000" stroke-width="0.35">Max- 3.03 x10<tspan font-size="23.5" dy="-13">7</tspan></text>
<text x="1049.27" y="49" font-size="62" stroke="#000" stroke-width="0.5">b</text>
<rect x="1231.92" y="58.54" width="228.53" height="332.11" fill="none" stroke="#000" stroke-width="2.9"/>
<line x1="1223.92" y1="94.85" x2="1231.92" y2="94.85" stroke="#000" stroke-width="2.9"/>
<text x="1220.96" y="104.44" font-size="26.8" stroke="#000" stroke-width="0.35" text-anchor="end">80000</text>
<line x1="1223.92" y1="169.03" x2="1231.92" y2="169.03" stroke="#000" stroke-width="2.9"/>
<text x="1220.96" y="178.62" font-size="26.8" stroke="#000" stroke-width="0.35" text-anchor="end">60000</text>
<line x1="1223.92" y1="242.91" x2="1231.92" y2="242.91" stroke="#000" stroke-width="2.9"/>
<text x="1220.96" y="252.5" font-size="26.8" stroke="#000" stroke-width="0.35" text-anchor="end">40000</text>
<line x1="1223.92" y1="316.78" x2="1231.92" y2="316.78" stroke="#000" stroke-width="2.9"/>
<text x="1220.96" y="326.37" font-size="26.8" stroke="#000" stroke-width="0.35" text-anchor="end">20000</text>
<line x1="1223.92" y1="390.65" x2="1231.92" y2="390.65" stroke="#000" stroke-width="2.9"/>
<text x="1220.96" y="400.24" font-size="26.8" stroke="#000" stroke-width="0.35" text-anchor="end">0</text>
<text transform="translate(1092.61 219.12) rotate(-90)" font-size="26.8" stroke="#000" stroke-width="0.35" text-anchor="middle">CD19<tspan font-size="17.42" dy="-11.26">+</tspan><tspan dy="11.26"> cells in BM</tspan></text>
<text transform="translate(1123.29 219.12) rotate(-90)" font-size="26.8" stroke="#000" stroke-width="0.35" text-anchor="middle">(Total absolute counts)</text>
<rect x="1251.33" y="223.19" width="74.51" height="167.46" fill="#c0c0ff" stroke="#000" stroke-width="2.9"/>
<rect x="1364.97" y="343.39" width="75.13" height="47.26" fill="#ffc0c0" stroke="#000" stroke-width="2.9"/>
<path d="M1269.78 205.03H1307.38M1288.58 205.03V239.78M1269.78 239.78H1307.38" fill="none" stroke="#000" stroke-width="2.7"/>
<path d="M1383.73 329.3H1421.33M1402.53 329.3V355.28M1383.73 355.28H1421.33" fill="none" stroke="#000" stroke-width="2.7"/>
<circle cx="1288.58" cy="119.26" r="7.35" fill="#0a0ab4" stroke="#000" stroke-width="2.5"/>
<circle cx="1257.9" cy="189.69" r="7.35" fill="#0a0ab4" stroke="#000" stroke-width="2.5"/>
<circle cx="1278.88" cy="197.52" r="7.35" fill="#0a0ab4" stroke="#000" stroke-width="2.5"/>
<circle cx="1299.23" cy="196.58" r="7.35" fill="#0a0ab4" stroke="#000" stroke-width="2.5"/>
<circle cx="1319.57" cy="196.58" r="7.35" fill="#0a0ab4" stroke="#000" stroke-width="2.5"/>
<circle cx="1257.9" cy="232.26" r="7.35" fill="#0a0ab4" stroke="#000" stroke-width="2.5"/>
<circle cx="1278.88" cy="247.29" r="7.35" fill="#0a0ab4" stroke="#000" stroke-width="2.5"/>
<circle cx="1299.23" cy="247.29" r="7.35" fill="#0a0ab4" stroke="#000" stroke-width="2.5"/>
<circle cx="1278.88" cy="301.44" r="7.35" fill="#0a0ab4" stroke="#000" stroke-width="2.5"/>
<circle cx="1299.23" cy="301.44" r="7.35" fill="#0a0ab4" stroke="#000" stroke-width="2.5"/>
<circle cx="1371.85" cy="290.49" r="7.35" fill="#ff0000" stroke="#000" stroke-width="2.5"/>
<circle cx="1392.52" cy="299.88" r="7.35" fill="#ff0000" stroke="#000" stroke-width="2.5"/>
<circle cx="1412.55" cy="299.88" r="7.35" fill="#ff0000" stroke="#000" stroke-width="2.5"/>
<circle cx="1433.21" cy="292.99" r="7.35" fill="#ff0000" stroke="#000" stroke-width="2.5"/>
<circle cx="1371.85" cy="364.67" r="7.35" fill="#ff0000" stroke="#000" stroke-width="2.5"/>
<circle cx="1412.55" cy="364.67" r="7.35" fill="#ff0000" stroke="#000" stroke-width="2.5"/>
<circle cx="1392.52" cy="374.06" r="7.35" fill="#ff0000" stroke="#000" stroke-width="2.5"/>
<circle cx="1433.21" cy="375" r="7.35" fill="#ff0000" stroke="#000" stroke-width="2.5"/>
<circle cx="1371.85" cy="381.89" r="7.35" fill="#ff0000" stroke="#000" stroke-width="2.5"/>
<circle cx="1412.55" cy="381.89" r="7.35" fill="#ff0000" stroke="#000" stroke-width="2.5"/>
<path d="M1289.83 106.35V94.85H1419.75V106.35" fill="none" stroke="#000" stroke-width="2.7"/>
<text x="1360.27" y="83.89" font-size="26.8" stroke="#000" stroke-width="0.35" text-anchor="middle" font-style="italic">p=0.0007</text>
<circle cx="1223.47" cy="433.54" r="7.35" fill="#0a0ab4" stroke="#000" stroke-width="2.5"/>
<circle cx="1222.22" cy="504.59" r="7.35" fill="#ff0000" stroke="#000" stroke-width="2.5"/>
<text x="1251.64" y="427.28" font-size="27.4" stroke="#000" stroke-width="0.35">B-NHL + CD19 CAR</text>
<text x="1252.89" y="457.64" font-size="27.4" stroke="#000" stroke-width="0.35">+ Vehicle (n=10)</text>
<text x="1251.02" y="498.33" font-size="27.4" stroke="#000" stroke-width="0.35">B-NHL + CD19 CAR</text>
<text x="1277.31" y="529.01" font-size="27.4" stroke="#000" stroke-width="0.35">+ Takinib (n=10)</text>
<text x="1532.8" y="48.9" font-size="62" stroke="#000" stroke-width="0.5">c</text>
<rect x="1689.68" y="72.39" width="389.2" height="289.56" fill="none" stroke="#000" stroke-width="2.9"/>
<line x1="1681.68" y1="121.22" x2="1689.68" y2="121.22" stroke="#000" stroke-width="2.9"/>
<text x="1678.75" y="131.03" font-size="27.4" stroke="#000" stroke-width="0.35" text-anchor="end">100</text>
<line x1="1681.68" y1="241.76" x2="1689.68" y2="241.76" stroke="#000" stroke-width="2.9"/>
<text x="1678.75" y="251.57" font-size="27.4" stroke="#000" stroke-width="0.35" text-anchor="end">50</text>
<line x1="1681.68" y1="361.95" x2="1689.68" y2="361.95" stroke="#000" stroke-width="2.9"/>
<text x="1678.75" y="371.76" font-size="27.4" stroke="#000" stroke-width="0.35" text-anchor="end">0</text>
<text transform="translate(1619.69 213.41) rotate(-90)" font-size="27.4" stroke="#000" stroke-width="0.35" text-anchor="middle">Viable B-NHL (A20) cells (%)</text>
<rect x="1700.95" y="170.73" width="40.96" height="191.22" fill="#f2f2f2" stroke="#000" stroke-width="2.9"/>
<rect x="1765.81" y="257.8" width="40.97" height="104.15" fill="#c0c0ff" stroke="#000" stroke-width="2.9"/>
<rect x="1830.68" y="315.17" width="40.97" height="46.78" fill="#ffc0c0" stroke="#000" stroke-width="2.9"/>
<rect x="1895.55" y="161.51" width="40.97" height="200.44" fill="#f2f2f2" stroke="#000" stroke-width="2.9"/>
<rect x="1960.41" y="250.29" width="40.97" height="111.66" fill="#c0c0ff" stroke="#000" stroke-width="2.9"/>
<rect x="2025.28" y="297.07" width="40.97" height="64.88" fill="#ffc0c0" stroke="#000" stroke-width="2.9"/>
<path d="M1710.93 166.63H1731.93M1721.43 166.63V174.15M1710.93 174.15H1731.93" fill="none" stroke="#000" stroke-width="2.7"/>
<path d="M1775.8 228.78H1796.8M1786.3 228.78V284.1M1775.8 284.1H1796.8" fill="none" stroke="#000" stroke-width="2.7"/>
<path d="M1840.66 302.2H1861.66M1851.16 302.2V327.12M1840.66 327.12H1861.66" fill="none" stroke="#000" stroke-width="2.7"/>
<path d="M1905.53 155.37H1926.53M1916.03 155.37V166.63M1905.53 166.63H1926.53" fill="none" stroke="#000" stroke-width="2.7"/>
<path d="M1970.4 219.56H1991.4M1980.9 219.56V279.32M1970.4 279.32H1991.4" fill="none" stroke="#000" stroke-width="2.7"/>
<path d="M2035.26 280.68H2056.26M2045.76 280.68V312.78M2035.26 312.78H2056.26" fill="none" stroke="#000" stroke-width="2.7"/>
<circle cx="1707.77" cy="163.22" r="7.53" fill="#808080" stroke="#000" stroke-width="2.75"/>
<circle cx="1707.77" cy="177.56" r="7.53" fill="#808080" stroke="#000" stroke-width="2.75"/>
<circle cx="1735.77" cy="170.05" r="7.53" fill="#808080" stroke="#000" stroke-width="2.75"/>
<circle cx="1786.3" cy="202.15" r="7.53" fill="#0a0ab4" stroke="#000" stroke-width="2.75"/>
<circle cx="1800.64" cy="277.27" r="7.53" fill="#0a0ab4" stroke="#000" stroke-width="2.75"/>
<circle cx="1772.64" cy="291.27" r="7.53" fill="#0a0ab4" stroke="#000" stroke-width="2.75"/>
<circle cx="1837.51" cy="298.78" r="7.53" fill="#ff0000" stroke="#000" stroke-width="2.75"/>
<circle cx="1865.5" cy="305.61" r="7.53" fill="#ff0000" stroke="#000" stroke-width="2.75"/>
<circle cx="1851.16" cy="339.76" r="7.53" fill="#ff0000" stroke="#000" stroke-width="2.75"/>
<circle cx="1901.69" cy="150.93" r="7.53" fill="#808080" stroke="#000" stroke-width="2.75"/>
<circle cx="1901.69" cy="170.73" r="7.53" fill="#808080" stroke="#000" stroke-width="2.75"/>
<circle cx="1930.37" cy="161.17" r="7.53" fill="#808080" stroke="#000" stroke-width="2.75"/>
<circle cx="1980.9" cy="192.93" r="7.53" fill="#0a0ab4" stroke="#000" stroke-width="2.75"/>
<circle cx="1980.9" cy="263.27" r="7.53" fill="#0a0ab4" stroke="#000" stroke-width="2.75"/>
<circle cx="1980.9" cy="292.98" r="7.53" fill="#0a0ab4" stroke="#000" stroke-width="2.75"/>
<circle cx="2032.11" cy="278.29" r="7.53" fill="#ff0000" stroke="#000" stroke-width="2.75"/>
<circle cx="2060.1" cy="282.39" r="7.53" fill="#ff0000" stroke="#000" stroke-width="2.75"/>
<circle cx="2045.76" cy="329.51" r="7.53" fill="#ff0000" stroke="#000" stroke-width="2.75"/>
<path d="M1722.11 124.5V112H1834.78V124.5" fill="none" stroke="#000" stroke-width="2.7"/>
<text x="1770.25" y="102.44" font-size="27.4" stroke="#000" stroke-width="0.35" text-anchor="middle" font-style="italic">p=0.01</text>
<path d="M1918.08 124.5V112H2038.25V124.5" fill="none" stroke="#000" stroke-width="2.7"/>
<text x="1974.75" y="102.44" font-size="27.4" stroke="#000" stroke-width="0.35" text-anchor="middle" font-style="italic">p=0.02</text>
<path d="M1702.99 377.32V399.16M1702.99 388.24H1854.58M1854.58 377.32V399.16" fill="none" stroke="#000" stroke-width="2.7"/>
<path d="M1896.91 377.32V399.16M1896.91 388.24H2060.1M2060.1 377.32V399.16" fill="none" stroke="#000" stroke-width="2.7"/>
<text x="1774.35" y="421.71" font-size="27.4" stroke="#000" stroke-width="0.35" text-anchor="middle">Vehicle</text>
<text x="1955.29" y="421.71" font-size="27.4" stroke="#000" stroke-width="0.35" text-anchor="middle">Takinib</text>
<circle cx="1655.54" cy="446.29" r="7.53" fill="#808080" stroke="#000" stroke-width="2.75"/>
<text x="1683.19" y="455.51" font-size="27.4" stroke="#000" stroke-width="0.35">B-NHL (n=3)</text>
<circle cx="1655.54" cy="485.22" r="7.53" fill="#0a0ab4" stroke="#000" stroke-width="2.75"/>
<text x="1683.19" y="494.44" font-size="27.4" stroke="#000" stroke-width="0.35">B-NHL + NT (n=3)</text>
<circle cx="1655.54" cy="523.46" r="7.53" fill="#ff0000" stroke="#000" stroke-width="2.75"/>
<text x="1683.19" y="532.68" font-size="27.4" stroke="#000" stroke-width="0.35">B-NHL + CD19 CAR (n=3)</text>
<text x="30.4" y="600.8" font-size="62" stroke="#000" stroke-width="0.5">d</text>
<text x="251.25" y="596.19" font-size="22" stroke="#000" stroke-width="0.35" text-anchor="middle" textLength="146" lengthAdjust="spacingAndGlyphs">B- NHL (A20)</text>
<rect x="85.39" y="632.12" width="332.94" height="264.7" fill="none" stroke="#000" stroke-width="2.5"/>
<line x1="75.89" y1="632.12" x2="85.39" y2="632.12" stroke="#000" stroke-width="2.5"/>
<text x="73.1" y="640.35" font-size="23" stroke="#000" stroke-width="0.35" text-anchor="end">100</text>
<line x1="75.89" y1="684.94" x2="85.39" y2="684.94" stroke="#000" stroke-width="2.5"/>
<text x="73.1" y="693.17" font-size="23" stroke="#000" stroke-width="0.35" text-anchor="end">80</text>
<line x1="75.89" y1="738.06" x2="85.39" y2="738.06" stroke="#000" stroke-width="2.5"/>
<text x="73.1" y="746.29" font-size="23" stroke="#000" stroke-width="0.35" text-anchor="end">60</text>
<line x1="75.89" y1="790.88" x2="85.39" y2="790.88" stroke="#000" stroke-width="2.5"/>
<text x="73.1" y="799.11" font-size="23" stroke="#000" stroke-width="0.35" text-anchor="end">40</text>
<line x1="75.89" y1="844.01" x2="85.39" y2="844.01" stroke="#000" stroke-width="2.5"/>
<text x="73.1" y="852.24" font-size="23" stroke="#000" stroke-width="0.35" text-anchor="end">20</text>
<line x1="75.89" y1="896.82" x2="85.39" y2="896.82" stroke="#000" stroke-width="2.5"/>
<text x="73.1" y="905.05" font-size="23" stroke="#000" stroke-width="0.35" text-anchor="end">0</text>
<text transform="translate(19.04 759.56) rotate(-90)" font-size="23" stroke="#000" stroke-width="0.35" text-anchor="middle">Living cells (%)</text>
<rect x="106.89" y="668.36" width="39.93" height="228.46" fill="#f2f2f2" stroke="#000" stroke-width="2.5"/>
<rect x="168.93" y="683.4" width="39.93" height="213.42" fill="#f2f2f2" stroke="#000" stroke-width="2.5"/>
<rect x="231.28" y="709.51" width="39.93" height="187.31" fill="#f2f2f2" stroke="#000" stroke-width="2.5"/>
<rect x="293.63" y="733.46" width="39.93" height="163.36" fill="#f2f2f2" stroke="#000" stroke-width="2.5"/>
<rect x="355.98" y="736.84" width="39.93" height="159.98" fill="#f2f2f2" stroke="#000" stroke-width="2.5"/>
<path d="M116.85 655.15H136.85M126.85 655.15V679.72M116.85 679.72H136.85" fill="none" stroke="#000" stroke-width="2.5"/>
<path d="M178.9 666.52H198.9M188.9 666.52V698.76M178.9 698.76H198.9" fill="none" stroke="#000" stroke-width="2.5"/>
<path d="M241.25 694.46H261.25M251.25 694.46V723.63M241.25 723.63H261.25" fill="none" stroke="#000" stroke-width="2.5"/>
<path d="M303.6 722.1H323.6M313.6 722.1V742.67M303.6 742.67H323.6" fill="none" stroke="#000" stroke-width="2.5"/>
<path d="M365.95 718.72H385.95M375.95 718.72V753.42M365.95 753.42H385.95" fill="none" stroke="#000" stroke-width="2.5"/>
<circle cx="112.72" cy="659.76" r="6.42" fill="#6a6a6a" stroke="#000" stroke-width="2.75"/>
<circle cx="140.67" cy="661.3" r="6.42" fill="#6a6a6a" stroke="#000" stroke-width="2.75"/>
<circle cx="126.85" cy="681.26" r="6.42" fill="#6a6a6a" stroke="#000" stroke-width="2.75"/>
<circle cx="175.07" cy="671.12" r="6.42" fill="#6a6a6a" stroke="#000" stroke-width="2.75"/>
<circle cx="203.02" cy="676.34" r="6.42" fill="#6a6a6a" stroke="#000" stroke-width="2.75"/>
<circle cx="188.9" cy="700.91" r="6.42" fill="#6a6a6a" stroke="#000" stroke-width="2.75"/>
<circle cx="237.42" cy="698.45" r="6.42" fill="#6a6a6a" stroke="#000" stroke-width="2.75"/>
<circle cx="265.07" cy="703.36" r="6.42" fill="#6a6a6a" stroke="#000" stroke-width="2.75"/>
<circle cx="251.25" cy="725.17" r="6.42" fill="#6a6a6a" stroke="#000" stroke-width="2.75"/>
<circle cx="313.6" cy="720.56" r="6.42" fill="#6a6a6a" stroke="#000" stroke-width="2.75"/>
<circle cx="327.73" cy="735.61" r="6.42" fill="#6a6a6a" stroke="#000" stroke-width="2.75"/>
<circle cx="299.47" cy="741.44" r="6.42" fill="#6a6a6a" stroke="#000" stroke-width="2.75"/>
<circle cx="375.95" cy="719.64" r="6.42" fill="#6a6a6a" stroke="#000" stroke-width="2.75"/>
<circle cx="375.95" cy="734.38" r="6.42" fill="#6a6a6a" stroke="#000" stroke-width="2.75"/>
<circle cx="375.95" cy="754.34" r="6.42" fill="#6a6a6a" stroke="#000" stroke-width="2.75"/>
<line x1="126.85" y1="896.82" x2="126.85" y2="906.03" stroke="#000" stroke-width="2.5"/>
<text x="126.85" y="928.45" font-size="23" stroke="#000" stroke-width="0.35" text-anchor="middle">0</text>
<line x1="188.9" y1="896.82" x2="188.9" y2="906.03" stroke="#000" stroke-width="2.5"/>
<text x="188.9" y="928.45" font-size="23" stroke="#000" stroke-width="0.35" text-anchor="middle">5</text>
<line x1="251.25" y1="896.82" x2="251.25" y2="906.03" stroke="#000" stroke-width="2.5"/>
<text x="251.25" y="928.45" font-size="23" stroke="#000" stroke-width="0.35" text-anchor="middle">10</text>
<line x1="313.6" y1="896.82" x2="313.6" y2="906.03" stroke="#000" stroke-width="2.5"/>
<text x="313.6" y="928.45" font-size="23" stroke="#000" stroke-width="0.35" text-anchor="middle">20</text>
<line x1="375.95" y1="896.82" x2="375.95" y2="906.03" stroke="#000" stroke-width="2.5"/>
<text x="375.95" y="928.45" font-size="23" stroke="#000" stroke-width="0.35" text-anchor="middle">50</text>
<text x="251.86" y="962.23" font-size="23" stroke="#000" stroke-width="0.35" text-anchor="middle" textLength="131" lengthAdjust="spacingAndGlyphs">Takinib (µM)</text>
<text x="512.9" y="596.2" font-size="62" stroke="#000" stroke-width="0.5">e</text>
<text x="757.18" y="611.24" font-size="22" stroke="#000" stroke-width="0.35" text-anchor="middle" textLength="230" lengthAdjust="spacingAndGlyphs">B- ALL (E2a- PBX1)</text>
<rect x="580.57" y="637.34" width="353.22" height="261.02" fill="none" stroke="#000" stroke-width="2.5"/>
<line x1="571.07" y1="680.95" x2="580.57" y2="680.95" stroke="#000" stroke-width="2.5"/>
<text x="568.9" y="688.83" font-size="22" stroke="#000" stroke-width="0.35" text-anchor="end" textLength="40.8" lengthAdjust="spacingAndGlyphs">100</text>
<line x1="571.07" y1="789.65" x2="580.57" y2="789.65" stroke="#000" stroke-width="2.5"/>
<text x="568.9" y="797.53" font-size="22" stroke="#000" stroke-width="0.35" text-anchor="end" textLength="27.2" lengthAdjust="spacingAndGlyphs">50</text>
<line x1="571.07" y1="898.36" x2="580.57" y2="898.36" stroke="#000" stroke-width="2.5"/>
<text x="568.9" y="906.24" font-size="22" stroke="#000" stroke-width="0.35" text-anchor="end" textLength="13.6" lengthAdjust="spacingAndGlyphs">0</text>
<text transform="translate(511.46 764.17) rotate(-90)" font-size="22" stroke="#000" stroke-width="0.35" text-anchor="middle">Living cells (%)</text>
<rect x="604.22" y="711.96" width="41.78" height="186.4" fill="#f2f2f2" stroke="#000" stroke-width="2.5"/>
<rect x="669.65" y="719.64" width="42.38" height="178.72" fill="#f2f2f2" stroke="#000" stroke-width="2.5"/>
<rect x="735.99" y="752.5" width="42.08" height="145.86" fill="#f2f2f2" stroke="#000" stroke-width="2.5"/>
<rect x="801.72" y="781.05" width="42.39" height="117.31" fill="#f2f2f2" stroke="#000" stroke-width="2.5"/>
<rect x="868.06" y="810.23" width="42.08" height="88.13" fill="#f2f2f2" stroke="#000" stroke-width="2.5"/>
<path d="M747.03 745.13H767.03M757.03 745.13V754.03M747.03 754.03H767.03" fill="none" stroke="#000" stroke-width="2.5"/>
<path d="M812.91 770.31H832.91M822.91 770.31V784.43M812.91 784.43H832.91" fill="none" stroke="#000" stroke-width="2.5"/>
<path d="M879.1 804.39H899.1M889.1 804.39V820.05M879.1 820.05H899.1" fill="none" stroke="#000" stroke-width="2.5"/>
<circle cx="610.37" cy="708.89" r="6.62" fill="#3c3c3c" stroke="#000" stroke-width="2.75"/>
<circle cx="625.11" cy="705.82" r="6.62" fill="#3c3c3c" stroke="#000" stroke-width="2.75"/>
<circle cx="639.85" cy="707.97" r="6.62" fill="#3c3c3c" stroke="#000" stroke-width="2.75"/>
<circle cx="676.1" cy="715.95" r="6.62" fill="#3c3c3c" stroke="#000" stroke-width="2.75"/>
<circle cx="690.84" cy="715.34" r="6.62" fill="#3c3c3c" stroke="#000" stroke-width="2.75"/>
<circle cx="705.89" cy="715.95" r="6.62" fill="#3c3c3c" stroke="#000" stroke-width="2.75"/>
<circle cx="742.13" cy="754.95" r="6.62" fill="#3c3c3c" stroke="#000" stroke-width="2.75"/>
<circle cx="757.18" cy="745.74" r="6.62" fill="#3c3c3c" stroke="#000" stroke-width="2.75"/>
<circle cx="772.23" cy="748.81" r="6.62" fill="#3c3c3c" stroke="#000" stroke-width="2.75"/>
<circle cx="808.17" cy="770.31" r="6.62" fill="#3c3c3c" stroke="#000" stroke-width="2.75"/>
<circle cx="808.17" cy="784.13" r="6.62" fill="#3c3c3c" stroke="#000" stroke-width="2.75"/>
<circle cx="837.96" cy="778.91" r="6.62" fill="#3c3c3c" stroke="#000" stroke-width="2.75"/>
<circle cx="874.21" cy="808.08" r="6.62" fill="#3c3c3c" stroke="#000" stroke-width="2.75"/>
<circle cx="904" cy="808.08" r="6.62" fill="#3c3c3c" stroke="#000" stroke-width="2.75"/>
<circle cx="888.95" cy="821.59" r="6.62" fill="#3c3c3c" stroke="#000" stroke-width="2.75"/>
<line x1="625.11" y1="898.36" x2="625.11" y2="907.57" stroke="#000" stroke-width="2.5"/>
<text x="625.11" y="929.99" font-size="22" stroke="#000" stroke-width="0.35" text-anchor="middle" textLength="13.6" lengthAdjust="spacingAndGlyphs">0</text>
<line x1="690.84" y1="898.36" x2="690.84" y2="907.57" stroke="#000" stroke-width="2.5"/>
<text x="690.84" y="929.99" font-size="22" stroke="#000" stroke-width="0.35" text-anchor="middle" textLength="13.6" lengthAdjust="spacingAndGlyphs">5</text>
<line x1="756.88" y1="898.36" x2="756.88" y2="907.57" stroke="#000" stroke-width="2.5"/>
<text x="756.88" y="929.99" font-size="22" stroke="#000" stroke-width="0.35" text-anchor="middle" textLength="27.2" lengthAdjust="spacingAndGlyphs">10</text>
<line x1="822.91" y1="898.36" x2="822.91" y2="907.57" stroke="#000" stroke-width="2.5"/>
<text x="822.91" y="929.99" font-size="22" stroke="#000" stroke-width="0.35" text-anchor="middle" textLength="27.2" lengthAdjust="spacingAndGlyphs">20</text>
<line x1="888.95" y1="898.36" x2="888.95" y2="907.57" stroke="#000" stroke-width="2.5"/>
<text x="888.95" y="929.99" font-size="22" stroke="#000" stroke-width="0.35" text-anchor="middle" textLength="27.2" lengthAdjust="spacingAndGlyphs">50</text>
<text x="757.8" y="963.15" font-size="22" stroke="#000" stroke-width="0.35" text-anchor="middle" textLength="139" lengthAdjust="spacingAndGlyphs">Takinib (µM)</text>
<path d="M627.57 696.86V685.86H887.72V696.86" fill="none" stroke="#000" stroke-width="2.7"/>
<text x="771" y="675.11" font-size="22" stroke="#000" stroke-width="0.35" text-anchor="middle" font-style="italic" textLength="77" lengthAdjust="spacingAndGlyphs">p=0.01</text>
<text x="993.83" y="596.2" font-size="62" stroke="#000" stroke-width="0.5">f</text>
<rect x="1122.08" y="638.58" width="345.66" height="253.71" fill="none" stroke="#000" stroke-width="2.9"/>
<line x1="1114.08" y1="638.58" x2="1122.08" y2="638.58" stroke="#000" stroke-width="2.9"/>
<text x="1110.5" y="648.07" font-size="26.5" stroke="#000" stroke-width="0.35" text-anchor="end">100</text>
<line x1="1114.08" y1="689.52" x2="1122.08" y2="689.52" stroke="#000" stroke-width="2.9"/>
<text x="1110.5" y="699.01" font-size="26.5" stroke="#000" stroke-width="0.35" text-anchor="end">80</text>
<line x1="1114.08" y1="740.13" x2="1122.08" y2="740.13" stroke="#000" stroke-width="2.9"/>
<text x="1110.5" y="749.62" font-size="26.5" stroke="#000" stroke-width="0.35" text-anchor="end">60</text>
<line x1="1114.08" y1="791.07" x2="1122.08" y2="791.07" stroke="#000" stroke-width="2.9"/>
<text x="1110.5" y="800.56" font-size="26.5" stroke="#000" stroke-width="0.35" text-anchor="end">40</text>
<line x1="1114.08" y1="841.68" x2="1122.08" y2="841.68" stroke="#000" stroke-width="2.9"/>
<text x="1110.5" y="851.17" font-size="26.5" stroke="#000" stroke-width="0.35" text-anchor="end">20</text>
<line x1="1114.08" y1="892.29" x2="1122.08" y2="892.29" stroke="#000" stroke-width="2.9"/>
<text x="1110.5" y="901.78" font-size="26.5" stroke="#000" stroke-width="0.35" text-anchor="end">0</text>
<text transform="translate(1019.54 761.63) rotate(-90)" font-size="27.1" stroke="#000" stroke-width="0.35" text-anchor="middle">Viable cells</text>
<text transform="translate(1052.62 760.31) rotate(-90)" font-size="27.4" stroke="#000" stroke-width="0.35" text-anchor="middle">NT/CD19 CAR &#160;cells (%)</text>
<rect x="1136.3" y="716.31" width="55.24" height="175.98" fill="#fff" stroke="#000" stroke-width="2.9"/>
<rect x="1222.97" y="683.23" width="55.23" height="209.06" fill="#fff" stroke="#000" stroke-width="2.9"/>
<rect x="1308.97" y="686.54" width="55.24" height="205.75" fill="#fff" stroke="#000" stroke-width="2.9"/>
<rect x="1395.96" y="681.58" width="55.24" height="210.71" fill="#fff" stroke="#000" stroke-width="2.9"/>
<path d="M1149.92 697.79H1177.92M1163.92 697.79V733.51M1149.92 733.51H1177.92" fill="none" stroke="#000" stroke-width="2.7"/>
<path d="M1236.58 670H1264.58M1250.58 670V694.48M1236.58 694.48H1264.58" fill="none" stroke="#000" stroke-width="2.7"/>
<path d="M1322.59 670H1350.59M1336.59 670V701.42M1322.59 701.42H1350.59" fill="none" stroke="#000" stroke-width="2.7"/>
<path d="M1409.58 665.37H1437.58M1423.58 665.37V695.14M1409.58 695.14H1437.58" fill="none" stroke="#000" stroke-width="2.7"/>
<circle cx="1164.09" cy="683.23" r="7.53" fill="#d2d2d2" stroke="#000" stroke-width="2.75"/>
<circle cx="1164.09" cy="720.28" r="7.53" fill="#d2d2d2" stroke="#000" stroke-width="2.75"/>
<circle cx="1164.09" cy="744.1" r="7.53" fill="#d2d2d2" stroke="#000" stroke-width="2.75"/>
<circle cx="1250.42" cy="660.08" r="7.53" fill="#808080" stroke="#000" stroke-width="2.75"/>
<circle cx="1250.42" cy="683.23" r="7.53" fill="#808080" stroke="#000" stroke-width="2.75"/>
<circle cx="1250.42" cy="703.74" r="7.53" fill="#808080" stroke="#000" stroke-width="2.75"/>
<circle cx="1336.75" cy="660.74" r="7.53" fill="#d2d2d2" stroke="#000" stroke-width="2.75"/>
<circle cx="1336.75" cy="682.24" r="7.53" fill="#d2d2d2" stroke="#000" stroke-width="2.75"/>
<circle cx="1336.75" cy="713.66" r="7.53" fill="#d2d2d2" stroke="#000" stroke-width="2.75"/>
<circle cx="1423.08" cy="655.78" r="7.53" fill="#808080" stroke="#000" stroke-width="2.75"/>
<circle cx="1423.08" cy="678.93" r="7.53" fill="#808080" stroke="#000" stroke-width="2.75"/>
<circle cx="1423.08" cy="707.05" r="7.53" fill="#808080" stroke="#000" stroke-width="2.75"/>
<path d="M1128.69 899.56V921.4M1128.69 910.48H1278.2M1278.2 899.56V921.4" fill="none" stroke="#000" stroke-width="2.7"/>
<path d="M1313.27 899.56V921.4M1313.27 910.48H1454.84M1454.84 899.56V921.4" fill="none" stroke="#000" stroke-width="2.7"/>
<text x="1201.46" y="939.59" font-size="26.5" stroke="#000" stroke-width="0.35" text-anchor="middle">Vehicle</text>
<text x="1380.74" y="939.59" font-size="26.5" stroke="#000" stroke-width="0.35" text-anchor="middle">Takinib</text>
<circle cx="1087.35" cy="982.26" r="7.35" fill="#d2d2d2" stroke="#000" stroke-width="2.5"/>
<text x="1115.46" y="990.53" font-size="26.5" stroke="#000" stroke-width="0.35">NT only (n=3)</text>
<circle cx="1087.35" cy="1022.29" r="7.35" fill="#808080" stroke="#000" stroke-width="2.5"/>
<text x="1115.46" y="1030.23" font-size="26.5" stroke="#000" stroke-width="0.35">CD19 CAR only (n=3)</text>
<text x="1503.6" y="581.9" font-size="62" stroke="#000" stroke-width="0.5">g</text>
<rect x="1709.11" y="605.93" width="360.28" height="260.28" fill="none" stroke="#000" stroke-width="2.9"/>
<line x1="1701.11" y1="605.93" x2="1709.11" y2="605.93" stroke="#000" stroke-width="2.9"/>
<text x="1694.98" y="616.31" font-size="29" stroke="#000" stroke-width="0.35" text-anchor="end">2.5</text>
<line x1="1701.11" y1="657.84" x2="1709.11" y2="657.84" stroke="#000" stroke-width="2.9"/>
<text x="1694.98" y="668.22" font-size="29" stroke="#000" stroke-width="0.35" text-anchor="end">2.0</text>
<line x1="1701.11" y1="710.11" x2="1709.11" y2="710.11" stroke="#000" stroke-width="2.9"/>
<text x="1694.98" y="720.49" font-size="29" stroke="#000" stroke-width="0.35" text-anchor="end">1.5</text>
<line x1="1701.11" y1="762.03" x2="1709.11" y2="762.03" stroke="#000" stroke-width="2.9"/>
<text x="1694.98" y="772.41" font-size="29" stroke="#000" stroke-width="0.35" text-anchor="end">1.0</text>
<line x1="1701.11" y1="814.29" x2="1709.11" y2="814.29" stroke="#000" stroke-width="2.9"/>
<text x="1694.98" y="824.67" font-size="29" stroke="#000" stroke-width="0.35" text-anchor="end">0.5</text>
<line x1="1701.11" y1="866.21" x2="1709.11" y2="866.21" stroke="#000" stroke-width="2.9"/>
<text x="1694.98" y="876.59" font-size="29" stroke="#000" stroke-width="0.35" text-anchor="end">0.0</text>
<text transform="translate(1560.75 722.47) rotate(-90)" font-size="28.8" stroke="#000" stroke-width="0.35" text-anchor="middle">Granzyme B expression</text>
<text transform="translate(1600.67 722.47) rotate(-90)" font-size="28.8" stroke="#000" stroke-width="0.35" text-anchor="middle">in all CD3<tspan font-size="18.72" dy="-12.1">+</tspan><tspan dy="12.1"> Tcells</tspan></text>
<text transform="translate(1633.52 722.47) rotate(-90)" font-size="28.8" stroke="#000" stroke-width="0.35" text-anchor="middle">(Fold change of &#160;MFI)</text>
<rect x="1725" y="762.03" width="25.43" height="104.18" fill="#fff" stroke="#000" stroke-width="2.9"/>
<rect x="1768.09" y="682.92" width="25.44" height="183.29" fill="#fff" stroke="#000" stroke-width="2.9"/>
<rect x="1811.19" y="740.84" width="25.43" height="125.37" fill="#c0c0ff" stroke="#000" stroke-width="2.9"/>
<rect x="1854.28" y="673.74" width="25.43" height="192.47" fill="#ffc0c0" stroke="#000" stroke-width="2.9"/>
<rect x="1897.37" y="792.4" width="25.43" height="73.81" fill="#fff" stroke="#000" stroke-width="2.9"/>
<rect x="1940.46" y="703.4" width="25.44" height="162.81" fill="#fff" stroke="#000" stroke-width="2.9"/>
<rect x="1983.56" y="770.86" width="25.43" height="95.35" fill="#c0c0ff" stroke="#000" stroke-width="2.9"/>
<rect x="2026.65" y="695.99" width="25.43" height="170.22" fill="#ffc0c0" stroke="#000" stroke-width="2.9"/>
<path d="M1773.41 635.95H1788.21M1780.81 635.95V726.36M1773.41 726.36H1788.21" fill="none" stroke="#000" stroke-width="2.7"/>
<path d="M1816.5 734.83H1831.3M1823.9 734.83V743.66M1816.5 743.66H1831.3" fill="none" stroke="#000" stroke-width="2.7"/>
<path d="M1859.59 625.35H1874.39M1866.99 625.35V722.47M1859.59 722.47H1874.39" fill="none" stroke="#000" stroke-width="2.7"/>
<path d="M1902.69 774.74H1917.49M1910.09 774.74V810.76M1902.69 810.76H1917.49" fill="none" stroke="#000" stroke-width="2.7"/>
<path d="M1945.78 673.74H1960.58M1953.18 673.74V742.6M1945.78 742.6H1960.58" fill="none" stroke="#000" stroke-width="2.7"/>
<path d="M1988.87 753.2H2003.67M1996.27 753.2V789.57M1988.87 789.57H2003.67" fill="none" stroke="#000" stroke-width="2.7"/>
<path d="M2031.97 657.14H2046.77M2039.37 657.14V743.66M2031.97 743.66H2046.77" fill="none" stroke="#000" stroke-width="2.7"/>
<circle cx="1737.36" cy="762.03" r="8.14" fill="#d2d2d2" stroke="#000" stroke-width="3.12"/>
<circle cx="1730.3" cy="762.03" r="8.14" fill="#d2d2d2" stroke="#000" stroke-width="3.12"/>
<circle cx="1744.78" cy="762.03" r="8.14" fill="#d2d2d2" stroke="#000" stroke-width="3.12"/>
<circle cx="1780.81" cy="635.24" r="8.14" fill="#808080" stroke="#000" stroke-width="3.12"/>
<circle cx="1780.81" cy="685.39" r="8.14" fill="#808080" stroke="#000" stroke-width="3.12"/>
<circle cx="1780.81" cy="726.36" r="8.14" fill="#808080" stroke="#000" stroke-width="3.12"/>
<circle cx="1816.84" cy="742.96" r="8.14" fill="#0a0ab4" stroke="#000" stroke-width="3.12"/>
<circle cx="1831.32" cy="740.48" r="8.14" fill="#0a0ab4" stroke="#000" stroke-width="3.12"/>
<circle cx="1824.26" cy="733.07" r="8.14" fill="#0a0ab4" stroke="#000" stroke-width="3.12"/>
<circle cx="1866.99" cy="635.95" r="8.14" fill="#ff0000" stroke="#000" stroke-width="3.12"/>
<circle cx="1866.99" cy="656.78" r="8.14" fill="#ff0000" stroke="#000" stroke-width="3.12"/>
<circle cx="1866.99" cy="726.71" r="8.14" fill="#ff0000" stroke="#000" stroke-width="3.12"/>
<circle cx="1903.38" cy="778.98" r="8.14" fill="#d2d2d2" stroke="#000" stroke-width="3.12"/>
<circle cx="1917.15" cy="787.1" r="8.14" fill="#d2d2d2" stroke="#000" stroke-width="3.12"/>
<circle cx="1909.73" cy="811.47" r="8.14" fill="#d2d2d2" stroke="#000" stroke-width="3.12"/>
<circle cx="1953.18" cy="673.74" r="8.14" fill="#808080" stroke="#000" stroke-width="3.12"/>
<circle cx="1953.18" cy="693.51" r="8.14" fill="#808080" stroke="#000" stroke-width="3.12"/>
<circle cx="1953.18" cy="742.6" r="8.14" fill="#808080" stroke="#000" stroke-width="3.12"/>
<circle cx="1996.27" cy="750.02" r="8.14" fill="#0a0ab4" stroke="#000" stroke-width="3.12"/>
<circle cx="2003.34" cy="773.68" r="8.14" fill="#0a0ab4" stroke="#000" stroke-width="3.12"/>
<circle cx="1989.21" cy="787.1" r="8.14" fill="#0a0ab4" stroke="#000" stroke-width="3.12"/>
<circle cx="2039.37" cy="657.14" r="8.14" fill="#ff0000" stroke="#000" stroke-width="3.12"/>
<circle cx="2039.37" cy="685.74" r="8.14" fill="#ff0000" stroke="#000" stroke-width="3.12"/>
<circle cx="2039.37" cy="743.66" r="8.14" fill="#ff0000" stroke="#000" stroke-width="3.12"/>
<path d="M1727.12 887.39V910.71M1727.12 899.05H1887.13M1887.13 887.39V910.71" fill="none" stroke="#000" stroke-width="2.7"/>
<path d="M1923.86 887.39V910.71M1923.86 899.05H2075.75M2075.75 887.39V910.71" fill="none" stroke="#000" stroke-width="2.7"/>
<text x="1806.59" y="928.36" font-size="29" stroke="#000" stroke-width="0.35" text-anchor="middle">Vehicle</text>
<text x="1999.1" y="928.36" font-size="29" stroke="#000" stroke-width="0.35" text-anchor="middle">Takinib</text>
<circle cx="1704.87" cy="950.26" r="7.84" fill="#d2d2d2" stroke="#000" stroke-width="3.12"/>
<text x="1734.89" y="959.09" font-size="29" stroke="#000" stroke-width="0.35">NT only (n=3)</text>
<circle cx="1704.87" cy="988.05" r="7.84" fill="#808080" stroke="#000" stroke-width="3.12"/>
<text x="1734.89" y="996.88" font-size="29" stroke="#000" stroke-width="0.35">CD19 CAR only (n=3)</text>
<circle cx="1704.87" cy="1028.66" r="7.84" fill="#0a0ab4" stroke="#000" stroke-width="3.12"/>
<text x="1734.89" y="1037.49" font-size="29" stroke="#000" stroke-width="0.35">B-NHL + NT (n=3)</text>
<circle cx="1704.87" cy="1066.8" r="7.84" fill="#ff0000" stroke="#000" stroke-width="3.12"/>
<text x="1734.89" y="1075.63" font-size="29" stroke="#000" stroke-width="0.35">B-NHL + CD19 CAR (n=3)</text>
<text x="14.32" y="1073.8" font-size="62" stroke="#000" stroke-width="0.5">h</text>
<rect x="237.74" y="1062.17" width="365.1" height="274.08" fill="none" stroke="#000" stroke-width="2.9"/>
<line x1="229.74" y1="1062.17" x2="237.74" y2="1062.17" stroke="#000" stroke-width="2.9"/>
<text x="223.27" y="1072.66" font-size="29.3" stroke="#000" stroke-width="0.35" text-anchor="end">3</text>
<line x1="229.74" y1="1153.53" x2="237.74" y2="1153.53" stroke="#000" stroke-width="2.9"/>
<text x="223.27" y="1164.02" font-size="29.3" stroke="#000" stroke-width="0.35" text-anchor="end">2</text>
<line x1="229.74" y1="1244.89" x2="237.74" y2="1244.89" stroke="#000" stroke-width="2.9"/>
<text x="223.27" y="1255.38" font-size="29.3" stroke="#000" stroke-width="0.35" text-anchor="end">1</text>
<line x1="229.74" y1="1336.25" x2="237.74" y2="1336.25" stroke="#000" stroke-width="2.9"/>
<text x="223.27" y="1346.74" font-size="29.3" stroke="#000" stroke-width="0.35" text-anchor="end">0</text>
<text transform="translate(102.54 1190.73) rotate(-90)" font-size="30.2" stroke="#000" stroke-width="0.35" text-anchor="middle">Perforin expression</text>
<text transform="translate(142.65 1190.73) rotate(-90)" font-size="30.2" stroke="#000" stroke-width="0.35" text-anchor="middle">in all CD3<tspan font-size="19.63" dy="-12.68">+</tspan><tspan dy="12.68"> Tcells</tspan></text>
<text transform="translate(177.79 1190.73) rotate(-90)" font-size="30.2" stroke="#000" stroke-width="0.35" text-anchor="middle">(Fold change of &#160;MFI)</text>
<rect x="252.63" y="1244.89" width="27.29" height="91.36" fill="#fff" stroke="#000" stroke-width="2.9"/>
<rect x="296.46" y="1183.29" width="27.28" height="152.96" fill="#fff" stroke="#000" stroke-width="2.9"/>
<rect x="340.28" y="1243.24" width="27.29" height="93.01" fill="#c0c0ff" stroke="#000" stroke-width="2.9"/>
<rect x="384.11" y="1177.92" width="27.29" height="158.33" fill="#ffc0c0" stroke="#000" stroke-width="2.9"/>
<rect x="427.94" y="1260.6" width="27.29" height="75.65" fill="#fff" stroke="#000" stroke-width="2.9"/>
<rect x="471.77" y="1203.96" width="27.28" height="132.29" fill="#fff" stroke="#000" stroke-width="2.9"/>
<rect x="515.59" y="1249.85" width="27.29" height="86.4" fill="#c0c0ff" stroke="#000" stroke-width="2.9"/>
<rect x="559.42" y="1179.57" width="27.29" height="156.68" fill="#ffc0c0" stroke="#000" stroke-width="2.9"/>
<path d="M302.7 1150.22H317.5M310.1 1150.22V1225.87M302.7 1225.87H317.5" fill="none" stroke="#000" stroke-width="2.7"/>
<path d="M346.53 1234.97H361.33M353.93 1234.97V1245.3M346.53 1245.3H361.33" fill="none" stroke="#000" stroke-width="2.7"/>
<path d="M390.36 1122.52H405.16M397.76 1122.52V1236.21M390.36 1236.21H405.16" fill="none" stroke="#000" stroke-width="2.7"/>
<path d="M434.18 1243.24H448.98M441.58 1243.24V1277.13M434.18 1277.13H448.98" fill="none" stroke="#000" stroke-width="2.7"/>
<path d="M478.01 1159.32H492.81M485.41 1159.32V1248.2M478.01 1248.2H492.81" fill="none" stroke="#000" stroke-width="2.7"/>
<path d="M521.84 1238.28H536.64M529.24 1238.28V1266.8M521.84 1266.8H536.64" fill="none" stroke="#000" stroke-width="2.7"/>
<path d="M565.67 1098.55H580.47M573.07 1098.55V1258.53M565.67 1258.53H580.47" fill="none" stroke="#000" stroke-width="2.7"/>
<circle cx="266.27" cy="1244.89" r="8.14" fill="#d2d2d2" stroke="#000" stroke-width="3.12"/>
<circle cx="259.24" cy="1244.89" r="8.14" fill="#d2d2d2" stroke="#000" stroke-width="3.12"/>
<circle cx="273.3" cy="1244.89" r="8.14" fill="#d2d2d2" stroke="#000" stroke-width="3.12"/>
<circle cx="310.1" cy="1150.22" r="8.14" fill="#808080" stroke="#000" stroke-width="3.12"/>
<circle cx="310.1" cy="1172.13" r="8.14" fill="#808080" stroke="#000" stroke-width="3.12"/>
<circle cx="310.1" cy="1225.87" r="8.14" fill="#808080" stroke="#000" stroke-width="3.12"/>
<circle cx="353.51" cy="1232.07" r="8.14" fill="#0a0ab4" stroke="#000" stroke-width="3.12"/>
<circle cx="346.49" cy="1244.48" r="8.14" fill="#0a0ab4" stroke="#000" stroke-width="3.12"/>
<circle cx="360.96" cy="1239.1" r="8.14" fill="#0a0ab4" stroke="#000" stroke-width="3.12"/>
<circle cx="397.76" cy="1122.52" r="8.14" fill="#ff0000" stroke="#000" stroke-width="3.12"/>
<circle cx="397.76" cy="1173.78" r="8.14" fill="#ff0000" stroke="#000" stroke-width="3.12"/>
<circle cx="397.76" cy="1236.21" r="8.14" fill="#ff0000" stroke="#000" stroke-width="3.12"/>
<circle cx="441.58" cy="1240.34" r="8.14" fill="#d2d2d2" stroke="#000" stroke-width="3.12"/>
<circle cx="448.61" cy="1260.6" r="8.14" fill="#d2d2d2" stroke="#000" stroke-width="3.12"/>
<circle cx="434.14" cy="1276.31" r="8.14" fill="#d2d2d2" stroke="#000" stroke-width="3.12"/>
<circle cx="485.41" cy="1159.32" r="8.14" fill="#808080" stroke="#000" stroke-width="3.12"/>
<circle cx="485.41" cy="1201.07" r="8.14" fill="#808080" stroke="#000" stroke-width="3.12"/>
<circle cx="485.41" cy="1248.2" r="8.14" fill="#808080" stroke="#000" stroke-width="3.12"/>
<circle cx="521.8" cy="1237.03" r="8.14" fill="#0a0ab4" stroke="#000" stroke-width="3.12"/>
<circle cx="536.27" cy="1239.93" r="8.14" fill="#0a0ab4" stroke="#000" stroke-width="3.12"/>
<circle cx="529.24" cy="1266.8" r="8.14" fill="#0a0ab4" stroke="#000" stroke-width="3.12"/>
<circle cx="573.07" cy="1091.52" r="8.14" fill="#ff0000" stroke="#000" stroke-width="3.12"/>
<circle cx="573.07" cy="1197.76" r="8.14" fill="#ff0000" stroke="#000" stroke-width="3.12"/>
<circle cx="573.07" cy="1247.37" r="8.14" fill="#ff0000" stroke="#000" stroke-width="3.12"/>
<path d="M255.11 1358.57V1382.55M255.11 1370.56H418.02M418.02 1358.57V1382.55" fill="none" stroke="#000" stroke-width="2.7"/>
<path d="M455.64 1358.57V1382.55M455.64 1370.56H609.45M609.45 1358.57V1382.55" fill="none" stroke="#000" stroke-width="2.7"/>
<text x="336.15" y="1401.57" font-size="29.3" stroke="#000" stroke-width="0.35" text-anchor="middle">Vehicle</text>
<text x="532.13" y="1401.57" font-size="29.3" stroke="#000" stroke-width="0.35" text-anchor="middle">Takinib</text>
<circle cx="234.02" cy="1427.2" r="7.84" fill="#d2d2d2" stroke="#000" stroke-width="3.12"/>
<text x="264.62" y="1436.71" font-size="29.3" stroke="#000" stroke-width="0.35">NT only (n=3)</text>
<circle cx="234.02" cy="1467.3" r="7.84" fill="#808080" stroke="#000" stroke-width="3.12"/>
<text x="264.62" y="1475.98" font-size="29.3" stroke="#000" stroke-width="0.35">CD19 CAR only (n=3)</text>
<circle cx="234.02" cy="1509.47" r="7.84" fill="#0a0ab4" stroke="#000" stroke-width="3.12"/>
<text x="264.62" y="1518.15" font-size="29.3" stroke="#000" stroke-width="0.35">B-NHL + NT (n=3)</text>
<circle cx="234.02" cy="1549.57" r="7.84" fill="#ff0000" stroke="#000" stroke-width="3.12"/>
<text x="264.62" y="1558.66" font-size="29.3" stroke="#000" stroke-width="0.35">B-NHL + CD19 CAR (n=3)</text>
<text x="730.85" y="1073" font-size="62" stroke="#000" stroke-width="0.5">i</text>
<rect x="926.58" y="1064.23" width="371.29" height="266.65" fill="none" stroke="#000" stroke-width="2.9"/>
<line x1="918.58" y1="1064.23" x2="926.58" y2="1064.23" stroke="#000" stroke-width="2.9"/>
<text x="912.94" y="1074.72" font-size="29.3" stroke="#000" stroke-width="0.35" text-anchor="end">15</text>
<line x1="918.58" y1="1153.53" x2="926.58" y2="1153.53" stroke="#000" stroke-width="2.9"/>
<text x="912.94" y="1164.02" font-size="29.3" stroke="#000" stroke-width="0.35" text-anchor="end">10</text>
<line x1="918.58" y1="1242.41" x2="926.58" y2="1242.41" stroke="#000" stroke-width="2.9"/>
<text x="912.94" y="1252.9" font-size="29.3" stroke="#000" stroke-width="0.35" text-anchor="end">5</text>
<line x1="918.58" y1="1330.88" x2="926.58" y2="1330.88" stroke="#000" stroke-width="2.9"/>
<text x="912.94" y="1341.37" font-size="29.3" stroke="#000" stroke-width="0.35" text-anchor="end">0</text>
<text transform="translate(783.52 1189.49) rotate(-90)" font-size="29.2" stroke="#000" stroke-width="0.35" text-anchor="middle">TNFα expression</text>
<text transform="translate(826.11 1189.49) rotate(-90)" font-size="29.2" stroke="#000" stroke-width="0.35" text-anchor="middle">in all CD3<tspan font-size="18.98" dy="-12.26">+</tspan><tspan dy="12.26">Tcells</tspan></text>
<text transform="translate(864.56 1189.49) rotate(-90)" font-size="29.2" stroke="#000" stroke-width="0.35" text-anchor="middle">(Fold change of &#160;MFI)</text>
<rect x="942.5" y="1313.51" width="26.87" height="17.37" fill="#fff" stroke="#000" stroke-width="2.9"/>
<rect x="987.15" y="1251.5" width="26.88" height="79.38" fill="#fff" stroke="#000" stroke-width="2.9"/>
<rect x="1031.39" y="1288.71" width="26.88" height="42.17" fill="#c0c0ff" stroke="#000" stroke-width="2.9"/>
<rect x="1076.05" y="1275.48" width="26.87" height="55.4" fill="#ffc0c0" stroke="#000" stroke-width="2.9"/>
<rect x="1120.29" y="1311.45" width="26.87" height="19.43" fill="#fff" stroke="#000" stroke-width="2.9"/>
<rect x="1164.94" y="1253.57" width="26.88" height="77.31" fill="#fff" stroke="#000" stroke-width="2.9"/>
<rect x="1209.6" y="1297.8" width="26.87" height="33.08" fill="#c0c0ff" stroke="#000" stroke-width="2.9"/>
<rect x="1253.84" y="1293.67" width="26.87" height="37.21" fill="#ffc0c0" stroke="#000" stroke-width="2.9"/>
<path d="M993.19 1153.53H1007.99M1000.59 1153.53V1330.88" fill="none" stroke="#000" stroke-width="2.7"/>
<path d="M1037.43 1238.28H1052.23M1044.83 1238.28V1330.88" fill="none" stroke="#000" stroke-width="2.7"/>
<path d="M1082.09 1216.36H1096.89M1089.49 1216.36V1330.88" fill="none" stroke="#000" stroke-width="2.7"/>
<path d="M1126.33 1305.25H1141.13M1133.73 1305.25V1315.58M1126.33 1315.58H1141.13" fill="none" stroke="#000" stroke-width="2.7"/>
<path d="M1170.98 1168.82H1185.78M1178.38 1168.82V1330.88" fill="none" stroke="#000" stroke-width="2.7"/>
<path d="M1215.64 1263.91H1230.44M1223.04 1263.91V1328.4M1215.64 1328.4H1230.44" fill="none" stroke="#000" stroke-width="2.7"/>
<path d="M1259.88 1268.04H1274.68M1267.28 1268.04V1318.47M1259.88 1318.47H1274.68" fill="none" stroke="#000" stroke-width="2.7"/>
<circle cx="956.35" cy="1313.51" r="8.14" fill="#d2d2d2" stroke="#000" stroke-width="3.12"/>
<circle cx="949.32" cy="1313.51" r="8.14" fill="#d2d2d2" stroke="#000" stroke-width="3.12"/>
<circle cx="962.97" cy="1313.51" r="8.14" fill="#d2d2d2" stroke="#000" stroke-width="3.12"/>
<circle cx="1000.59" cy="1139.06" r="8.14" fill="#808080" stroke="#000" stroke-width="3.12"/>
<circle cx="1000.59" cy="1298.22" r="8.14" fill="#808080" stroke="#000" stroke-width="3.12"/>
<circle cx="1000.59" cy="1314.34" r="8.14" fill="#808080" stroke="#000" stroke-width="3.12"/>
<circle cx="1044.83" cy="1231.66" r="8.14" fill="#0a0ab4" stroke="#000" stroke-width="3.12"/>
<circle cx="1051.86" cy="1311.86" r="8.14" fill="#0a0ab4" stroke="#000" stroke-width="3.12"/>
<circle cx="1037.8" cy="1322.2" r="8.14" fill="#0a0ab4" stroke="#000" stroke-width="3.12"/>
<circle cx="1089.49" cy="1207.27" r="8.14" fill="#ff0000" stroke="#000" stroke-width="3.12"/>
<circle cx="1096.52" cy="1303.59" r="8.14" fill="#ff0000" stroke="#000" stroke-width="3.12"/>
<circle cx="1082.46" cy="1312.27" r="8.14" fill="#ff0000" stroke="#000" stroke-width="3.12"/>
<circle cx="1126.28" cy="1313.1" r="8.14" fill="#d2d2d2" stroke="#000" stroke-width="3.12"/>
<circle cx="1140.76" cy="1309.38" r="8.14" fill="#d2d2d2" stroke="#000" stroke-width="3.12"/>
<circle cx="1133.73" cy="1299.04" r="8.14" fill="#d2d2d2" stroke="#000" stroke-width="3.12"/>
<circle cx="1178.38" cy="1157.25" r="8.14" fill="#808080" stroke="#000" stroke-width="3.12"/>
<circle cx="1178.38" cy="1284.99" r="8.14" fill="#808080" stroke="#000" stroke-width="3.12"/>
<circle cx="1178.38" cy="1314.34" r="8.14" fill="#808080" stroke="#000" stroke-width="3.12"/>
<circle cx="1223.04" cy="1260.19" r="8.14" fill="#0a0ab4" stroke="#000" stroke-width="3.12"/>
<circle cx="1230.06" cy="1311.03" r="8.14" fill="#0a0ab4" stroke="#000" stroke-width="3.12"/>
<circle cx="1215.59" cy="1320.54" r="8.14" fill="#0a0ab4" stroke="#000" stroke-width="3.12"/>
<circle cx="1267.28" cy="1260.19" r="8.14" fill="#ff0000" stroke="#000" stroke-width="3.12"/>
<circle cx="1274.31" cy="1305.66" r="8.14" fill="#ff0000" stroke="#000" stroke-width="3.12"/>
<circle cx="1260.25" cy="1311.45" r="8.14" fill="#ff0000" stroke="#000" stroke-width="3.12"/>
<path d="M945.19 1351.96V1375.94M945.19 1363.95H1110.16M1110.16 1351.96V1375.94" fill="none" stroke="#000" stroke-width="2.7"/>
<path d="M1148.2 1351.96V1375.94M1148.2 1363.95H1304.9M1304.9 1351.96V1375.94" fill="none" stroke="#000" stroke-width="2.7"/>
<text x="1025.81" y="1395.37" font-size="29.3" stroke="#000" stroke-width="0.35" text-anchor="middle">Vehicle</text>
<text x="1223.45" y="1395.37" font-size="29.3" stroke="#000" stroke-width="0.35" text-anchor="middle">Takinib</text>
<circle cx="922.03" cy="1436.71" r="7.84" fill="#d2d2d2" stroke="#000" stroke-width="3.12"/>
<text x="953.04" y="1446.22" font-size="29.55" stroke="#000" stroke-width="0.35">NT only (n=3)</text>
<circle cx="922.03" cy="1476.39" r="7.84" fill="#808080" stroke="#000" stroke-width="3.12"/>
<text x="953.04" y="1485.9" font-size="29.55" stroke="#000" stroke-width="0.35">CD19 CAR only (n=3)</text>
<circle cx="922.03" cy="1516.91" r="7.84" fill="#0a0ab4" stroke="#000" stroke-width="3.12"/>
<text x="953.04" y="1526" font-size="29.55" stroke="#000" stroke-width="0.35">B-NHL + NT (n=3)</text>
<circle cx="922.03" cy="1556.59" r="7.84" fill="#ff0000" stroke="#000" stroke-width="3.12"/>
<text x="953.04" y="1566.51" font-size="29.55" stroke="#000" stroke-width="0.35">B-NHL + CD19 CAR (n=3)</text>
<text x="1453.69" y="1115.9" font-size="62" stroke="#000" stroke-width="0.5">j</text>
<rect x="1683.65" y="1099.99" width="380.95" height="264.23" fill="none" stroke="#000" stroke-width="2.9"/>
<line x1="1675.65" y1="1099.99" x2="1683.65" y2="1099.99" stroke="#000" stroke-width="2.9"/>
<text x="1668.81" y="1110.84" font-size="30.3" stroke="#000" stroke-width="0.35" text-anchor="end">2.5</text>
<line x1="1675.65" y1="1152.75" x2="1683.65" y2="1152.75" stroke="#000" stroke-width="2.9"/>
<text x="1668.81" y="1163.6" font-size="30.3" stroke="#000" stroke-width="0.35" text-anchor="end">2.0</text>
<line x1="1675.65" y1="1205.52" x2="1683.65" y2="1205.52" stroke="#000" stroke-width="2.9"/>
<text x="1668.81" y="1216.37" font-size="30.3" stroke="#000" stroke-width="0.35" text-anchor="end">1.5</text>
<line x1="1675.65" y1="1258.28" x2="1683.65" y2="1258.28" stroke="#000" stroke-width="2.9"/>
<text x="1668.81" y="1269.13" font-size="30.3" stroke="#000" stroke-width="0.35" text-anchor="end">1.0</text>
<line x1="1675.65" y1="1311.04" x2="1683.65" y2="1311.04" stroke="#000" stroke-width="2.9"/>
<text x="1668.81" y="1321.89" font-size="30.3" stroke="#000" stroke-width="0.35" text-anchor="end">0.5</text>
<line x1="1675.65" y1="1364.22" x2="1683.65" y2="1364.22" stroke="#000" stroke-width="2.9"/>
<text x="1668.81" y="1375.07" font-size="30.3" stroke="#000" stroke-width="0.35" text-anchor="end">0.0</text>
<text transform="translate(1517.5 1224.89) rotate(-90)" font-size="29.6" stroke="#000" stroke-width="0.35" text-anchor="middle">CD107 expression</text>
<text transform="translate(1559.97 1224.89) rotate(-90)" font-size="29.6" stroke="#000" stroke-width="0.35" text-anchor="middle">in all CD3<tspan font-size="19.24" dy="-12.43">+</tspan><tspan dy="12.43"> Tcells</tspan></text>
<text transform="translate(1597.9 1224.89) rotate(-90)" font-size="29.6" stroke="#000" stroke-width="0.35" text-anchor="middle">(Fold change of &#160;MFI)</text>
<rect x="1700.35" y="1258.28" width="27.62" height="105.94" fill="#fff" stroke="#000" stroke-width="2.9"/>
<rect x="1745.7" y="1183.67" width="27.62" height="180.55" fill="#fff" stroke="#000" stroke-width="2.9"/>
<rect x="1791.47" y="1239.73" width="27.62" height="124.49" fill="#c0c0ff" stroke="#000" stroke-width="2.9"/>
<rect x="1836.82" y="1159.76" width="27.62" height="204.46" fill="#ffc0c0" stroke="#000" stroke-width="2.9"/>
<rect x="1882.58" y="1270.23" width="27.62" height="93.99" fill="#fff" stroke="#000" stroke-width="2.9"/>
<rect x="1927.93" y="1187.79" width="27.63" height="176.43" fill="#fff" stroke="#000" stroke-width="2.9"/>
<rect x="1973.7" y="1249.62" width="27.62" height="114.6" fill="#c0c0ff" stroke="#000" stroke-width="2.9"/>
<rect x="2019.46" y="1177.9" width="27.62" height="186.32" fill="#ffc0c0" stroke="#000" stroke-width="2.9"/>
<path d="M1752.11 1158.93H1766.91M1759.51 1158.93V1205.93M1752.11 1205.93H1766.91" fill="none" stroke="#000" stroke-width="2.7"/>
<path d="M1797.88 1191.91H1812.68M1805.28 1191.91V1279.3M1797.88 1279.3H1812.68" fill="none" stroke="#000" stroke-width="2.7"/>
<path d="M1843.23 1138.32H1858.03M1850.63 1138.32V1178.31M1843.23 1178.31H1858.03" fill="none" stroke="#000" stroke-width="2.7"/>
<path d="M1888.99 1256.63H1903.79M1896.39 1256.63V1284.66M1888.99 1284.66H1903.79" fill="none" stroke="#000" stroke-width="2.7"/>
<path d="M1934.34 1163.06H1949.14M1941.74 1163.06V1209.23M1934.34 1209.23H1949.14" fill="none" stroke="#000" stroke-width="2.7"/>
<path d="M1980.11 1202.22H1994.91M1987.51 1202.22V1290.85M1980.11 1290.85H1994.91" fill="none" stroke="#000" stroke-width="2.7"/>
<path d="M2025.87 1125.13H2040.67M2033.27 1125.13V1223.24M2025.87 1223.24H2040.67" fill="none" stroke="#000" stroke-width="2.7"/>
<circle cx="1714.16" cy="1258.28" r="8.14" fill="#d2d2d2" stroke="#000" stroke-width="3.12"/>
<circle cx="1707.15" cy="1258.28" r="8.14" fill="#d2d2d2" stroke="#000" stroke-width="3.12"/>
<circle cx="1720.76" cy="1258.28" r="8.14" fill="#d2d2d2" stroke="#000" stroke-width="3.12"/>
<circle cx="1759.51" cy="1158.11" r="8.14" fill="#808080" stroke="#000" stroke-width="3.12"/>
<circle cx="1759.51" cy="1185.32" r="8.14" fill="#808080" stroke="#000" stroke-width="3.12"/>
<circle cx="1759.51" cy="1205.93" r="8.14" fill="#808080" stroke="#000" stroke-width="3.12"/>
<circle cx="1805.28" cy="1191.5" r="8.14" fill="#0a0ab4" stroke="#000" stroke-width="3.12"/>
<circle cx="1812.29" cy="1260.75" r="8.14" fill="#0a0ab4" stroke="#000" stroke-width="3.12"/>
<circle cx="1797.86" cy="1264.46" r="8.14" fill="#0a0ab4" stroke="#000" stroke-width="3.12"/>
<circle cx="1850.63" cy="1137.5" r="8.14" fill="#ff0000" stroke="#000" stroke-width="3.12"/>
<circle cx="1858.05" cy="1164.29" r="8.14" fill="#ff0000" stroke="#000" stroke-width="3.12"/>
<circle cx="1843.62" cy="1174.19" r="8.14" fill="#ff0000" stroke="#000" stroke-width="3.12"/>
<circle cx="1889.38" cy="1259.1" r="8.14" fill="#d2d2d2" stroke="#000" stroke-width="3.12"/>
<circle cx="1903.81" cy="1266.11" r="8.14" fill="#d2d2d2" stroke="#000" stroke-width="3.12"/>
<circle cx="1896.39" cy="1284.66" r="8.14" fill="#d2d2d2" stroke="#000" stroke-width="3.12"/>
<circle cx="1941.74" cy="1161.82" r="8.14" fill="#808080" stroke="#000" stroke-width="3.12"/>
<circle cx="1949.16" cy="1196.03" r="8.14" fill="#808080" stroke="#000" stroke-width="3.12"/>
<circle cx="1934.73" cy="1202.63" r="8.14" fill="#808080" stroke="#000" stroke-width="3.12"/>
<circle cx="1987.51" cy="1200.57" r="8.14" fill="#0a0ab4" stroke="#000" stroke-width="3.12"/>
<circle cx="1994.93" cy="1267.35" r="8.14" fill="#0a0ab4" stroke="#000" stroke-width="3.12"/>
<circle cx="1980.5" cy="1278.89" r="8.14" fill="#0a0ab4" stroke="#000" stroke-width="3.12"/>
<circle cx="2033.27" cy="1123.89" r="8.14" fill="#ff0000" stroke="#000" stroke-width="3.12"/>
<circle cx="2033.27" cy="1193.15" r="8.14" fill="#ff0000" stroke="#000" stroke-width="3.12"/>
<circle cx="2033.27" cy="1213.35" r="8.14" fill="#ff0000" stroke="#000" stroke-width="3.12"/>
<path d="M1702.21 1385.25V1408.33M1702.21 1396.79H1872.07M1872.07 1385.25V1408.33" fill="none" stroke="#000" stroke-width="2.7"/>
<path d="M1910.82 1385.25V1408.33M1910.82 1396.79H2072.03M2072.03 1385.25V1408.33" fill="none" stroke="#000" stroke-width="2.7"/>
<text x="1786.31" y="1426.88" font-size="30.3" stroke="#000" stroke-width="0.35" text-anchor="middle">Vehicle</text>
<text x="1990.39" y="1426.88" font-size="30.3" stroke="#000" stroke-width="0.35" text-anchor="middle">Takinib</text>
<circle cx="1678.71" cy="1445.43" r="7.84" fill="#d2d2d2" stroke="#000" stroke-width="3.12"/>
<text x="1710.04" y="1454.91" font-size="30.8" stroke="#000" stroke-width="0.35">NT only (n=3)</text>
<circle cx="1678.71" cy="1483.77" r="7.84" fill="#808080" stroke="#000" stroke-width="3.12"/>
<text x="1710.04" y="1493.66" font-size="30.8" stroke="#000" stroke-width="0.35">CD19 CAR only (n=3)</text>
<circle cx="1678.71" cy="1524.58" r="7.84" fill="#0a0ab4" stroke="#000" stroke-width="3.12"/>
<text x="1710.04" y="1534.06" font-size="30.8" stroke="#000" stroke-width="0.35">B-NHL + NT (n=3)</text>
<circle cx="1678.71" cy="1563.74" r="7.84" fill="#ff0000" stroke="#000" stroke-width="3.12"/>
<text x="1710.04" y="1573.63" font-size="30.8" stroke="#000" stroke-width="0.35">B-NHL + CD19 CAR (n=3)</text>
<text x="25.75" y="1599.6" font-size="62" stroke="#000" stroke-width="0.5">k</text>
<text x="426.46" y="1601.75" font-size="38" stroke="#000" stroke-width="0.35" text-anchor="middle">A20</text>
<rect x="242.41" y="1628.24" width="373.94" height="279.25" fill="none" stroke="#000" stroke-width="2.9"/>
<line x1="234.41" y1="1652.93" x2="242.41" y2="1652.93" stroke="#000" stroke-width="2.9"/>
<text x="234.33" y="1662.35" font-size="26.3" stroke="#000" stroke-width="0.35" text-anchor="end">100</text>
<line x1="234.41" y1="1779.99" x2="242.41" y2="1779.99" stroke="#000" stroke-width="2.9"/>
<text x="234.33" y="1789.41" font-size="26.3" stroke="#000" stroke-width="0.35" text-anchor="end">50</text>
<line x1="234.41" y1="1907.49" x2="242.41" y2="1907.49" stroke="#000" stroke-width="2.9"/>
<text x="234.33" y="1916.91" font-size="26.3" stroke="#000" stroke-width="0.35" text-anchor="end">0</text>
<line x1="242.41" y1="1907.49" x2="242.41" y2="1915.49" stroke="#000" stroke-width="2.9"/>
<text x="242.41" y="1942.51" font-size="26.3" stroke="#000" stroke-width="0.35" text-anchor="middle">0</text>
<line x1="335.78" y1="1907.49" x2="335.78" y2="1915.49" stroke="#000" stroke-width="2.9"/>
<text x="335.78" y="1942.51" font-size="26.3" stroke="#000" stroke-width="0.35" text-anchor="middle">20</text>
<line x1="429.16" y1="1907.49" x2="429.16" y2="1915.49" stroke="#000" stroke-width="2.9"/>
<text x="429.16" y="1942.51" font-size="26.3" stroke="#000" stroke-width="0.35" text-anchor="middle">40</text>
<line x1="522.53" y1="1907.49" x2="522.53" y2="1915.49" stroke="#000" stroke-width="2.9"/>
<text x="522.53" y="1942.51" font-size="26.3" stroke="#000" stroke-width="0.35" text-anchor="middle">60</text>
<line x1="616.35" y1="1907.49" x2="616.35" y2="1915.49" stroke="#000" stroke-width="2.9"/>
<text x="616.35" y="1942.51" font-size="26.3" stroke="#000" stroke-width="0.35" text-anchor="middle">80</text>
<text x="430.05" y="1975.28" font-size="26.3" stroke="#000" stroke-width="0.35" text-anchor="middle">Time after A20 injection (days)</text>
<text transform="translate(175.97 1762.93) rotate(-90)" font-size="26.3" stroke="#000" stroke-width="0.35" text-anchor="middle">Percent survival</text>
<path d="M242.41 1652.93H326.36V1672.24H382.02V1692.44H438.58V1711.75H443.07V1731.5H490.21V1751.25H522.53V1751.25" fill="none" stroke="#000" stroke-width="2.8" stroke-linejoin="miter"/>
<circle cx="326.36" cy="1672.24" r="7.35" fill="#ff0000" stroke="#000" stroke-width="2.5"/>
<circle cx="382.02" cy="1692.44" r="7.35" fill="#ff0000" stroke="#000" stroke-width="2.5"/>
<circle cx="438.58" cy="1711.75" r="7.35" fill="#ff0000" stroke="#000" stroke-width="2.5"/>
<circle cx="443.07" cy="1731.5" r="7.35" fill="#ff0000" stroke="#000" stroke-width="2.5"/>
<circle cx="490.21" cy="1751.25" r="7.35" fill="#ff0000" stroke="#000" stroke-width="2.5"/>
<circle cx="522.53" cy="1751.25" r="7.35" fill="#ff0000" stroke="#000" stroke-width="2.5"/>
<path d="M242.41 1652.93H274.73V1678.52H283.26V1704.11H288.65V1729.7H290.89V1754.84H307.5V1780.43H309.75V1806.02H311.09V1831.17H316.48V1856.76H339.82V1881.9H342.07V1907.49" fill="none" stroke="#000" stroke-width="2.8" stroke-linejoin="miter"/>
<circle cx="274.73" cy="1678.52" r="7.35" fill="#808080" stroke="#000" stroke-width="2.5"/>
<circle cx="283.26" cy="1704.11" r="7.35" fill="#808080" stroke="#000" stroke-width="2.5"/>
<circle cx="288.65" cy="1729.7" r="7.35" fill="#808080" stroke="#000" stroke-width="2.5"/>
<circle cx="290.89" cy="1754.84" r="7.35" fill="#808080" stroke="#000" stroke-width="2.5"/>
<circle cx="307.5" cy="1780.43" r="7.35" fill="#808080" stroke="#000" stroke-width="2.5"/>
<circle cx="309.75" cy="1806.02" r="7.35" fill="#808080" stroke="#000" stroke-width="2.5"/>
<circle cx="311.09" cy="1831.17" r="7.35" fill="#808080" stroke="#000" stroke-width="2.5"/>
<circle cx="316.48" cy="1856.76" r="7.35" fill="#808080" stroke="#000" stroke-width="2.5"/>
<circle cx="339.82" cy="1881.9" r="7.35" fill="#808080" stroke="#000" stroke-width="2.5"/>
<circle cx="342.07" cy="1907.49" r="7.35" fill="#808080" stroke="#000" stroke-width="2.5"/>
<path d="M242.41 1652.93H288.65V1678.52H339.82V1704.11H342.07V1729.7H349.7V1780.43H351.94V1806.02H381.57V1831.17H419.73V1856.76H421.97V1881.9H447.56V1907.49" fill="none" stroke="#000" stroke-width="2.8" stroke-linejoin="miter"/>
<circle cx="288.65" cy="1678.52" r="7.35" fill="#14b414" stroke="#000" stroke-width="2.5"/>
<circle cx="339.82" cy="1704.11" r="7.35" fill="#14b414" stroke="#000" stroke-width="2.5"/>
<circle cx="342.07" cy="1729.7" r="7.35" fill="#14b414" stroke="#000" stroke-width="2.5"/>
<circle cx="349.7" cy="1780.43" r="7.35" fill="#14b414" stroke="#000" stroke-width="2.5"/>
<circle cx="351.94" cy="1806.02" r="7.35" fill="#14b414" stroke="#000" stroke-width="2.5"/>
<circle cx="381.57" cy="1831.17" r="7.35" fill="#14b414" stroke="#000" stroke-width="2.5"/>
<circle cx="419.73" cy="1856.76" r="7.35" fill="#14b414" stroke="#000" stroke-width="2.5"/>
<circle cx="421.97" cy="1881.9" r="7.35" fill="#14b414" stroke="#000" stroke-width="2.5"/>
<circle cx="447.56" cy="1907.49" r="7.35" fill="#14b414" stroke="#000" stroke-width="2.5"/>
<path d="M242.41 1652.93H307.5V1676.73H349.7V1699.62H386.96V1722.52H389.2V1745.42H433.64V1768.76H452.5V1791.66H466.86V1815H469.11V1838.35H480.33V1884.14H522.08V1884.14" fill="none" stroke="#000" stroke-width="2.8" stroke-linejoin="miter"/>
<circle cx="307.5" cy="1676.73" r="7.35" fill="#0a0aff" stroke="#000" stroke-width="2.5"/>
<circle cx="349.7" cy="1699.62" r="7.35" fill="#0a0aff" stroke="#000" stroke-width="2.5"/>
<circle cx="386.96" cy="1722.52" r="7.35" fill="#0a0aff" stroke="#000" stroke-width="2.5"/>
<circle cx="389.2" cy="1745.42" r="7.35" fill="#0a0aff" stroke="#000" stroke-width="2.5"/>
<circle cx="433.64" cy="1768.76" r="7.35" fill="#0a0aff" stroke="#000" stroke-width="2.5"/>
<circle cx="452.5" cy="1791.66" r="7.35" fill="#0a0aff" stroke="#000" stroke-width="2.5"/>
<circle cx="466.86" cy="1815" r="7.35" fill="#0a0aff" stroke="#000" stroke-width="2.5"/>
<circle cx="469.11" cy="1838.35" r="7.35" fill="#0a0aff" stroke="#000" stroke-width="2.5"/>
<circle cx="480.33" cy="1884.14" r="7.35" fill="#0a0aff" stroke="#000" stroke-width="2.5"/>
<circle cx="522.08" cy="1884.14" r="7.35" fill="#0a0aff" stroke="#000" stroke-width="2.5"/>
<line x1="147.76" y1="2006.71" x2="172.76" y2="2006.71" stroke="#000" stroke-width="2.6"/>
<circle cx="160.26" cy="2006.71" r="7.35" fill="#808080" stroke="#000" stroke-width="2.5"/>
<text x="187.64" y="2015.68" font-size="26.5" stroke="#000" stroke-width="0.35">B-NHL + Vehicle (n=10)</text>
<line x1="147.76" y1="2045.31" x2="172.76" y2="2045.31" stroke="#000" stroke-width="2.6"/>
<circle cx="160.26" cy="2045.31" r="7.35" fill="#14b414" stroke="#000" stroke-width="2.5"/>
<text x="187.64" y="2053.85" font-size="26.5" stroke="#000" stroke-width="0.35">B-NHL + Takinib (n=10)</text>
<line x1="147.76" y1="2081.68" x2="172.76" y2="2081.68" stroke="#000" stroke-width="2.6"/>
<circle cx="160.26" cy="2081.68" r="7.35" fill="#0a0aff" stroke="#000" stroke-width="2.5"/>
<text x="187.64" y="2090.66" font-size="26.5" stroke="#000" stroke-width="0.35">B-NHL + CD19 CAR + Vehicle (n=12)</text>
<line x1="147.76" y1="2118.94" x2="172.76" y2="2118.94" stroke="#000" stroke-width="2.6"/>
<circle cx="160.26" cy="2118.94" r="7.35" fill="#ff0000" stroke="#000" stroke-width="2.5"/>
<text x="187.64" y="2127.92" font-size="26.5" stroke="#000" stroke-width="0.35">B-NHL + CD19 CAR + Takinib (n=12)</text>
<path d="M625.33 2008.05H636.55V2080.78H625.33" fill="none" stroke="#000" stroke-width="2.7"/>
<path d="M625.33 2085.27H636.55V2121.19H625.33" fill="none" stroke="#000" stroke-width="2.7"/>
<text x="641.04" y="2053.85" font-size="26.3" stroke="#000" stroke-width="0.35" font-style="italic">p=0.0001</text>
<text x="642.84" y="2115.35" font-size="26.3" stroke="#000" stroke-width="0.35" font-style="italic">p=0.03</text>
<text x="746.85" y="1595" font-size="62" stroke="#000" stroke-width="0.5">l</text>
<text x="1140.5" y="1599.27" font-size="38" stroke="#000" stroke-width="0.35" text-anchor="middle">A20</text>
<rect x="931.7" y="1624.89" width="376.66" height="285.62" fill="none" stroke="#000" stroke-width="2.9"/>
<line x1="923.7" y1="1650.93" x2="931.7" y2="1650.93" stroke="#000" stroke-width="2.9"/>
<text x="923.43" y="1660.24" font-size="26" stroke="#000" stroke-width="0.35" text-anchor="end">100</text>
<line x1="923.7" y1="1780.72" x2="931.7" y2="1780.72" stroke="#000" stroke-width="2.9"/>
<text x="923.43" y="1790.03" font-size="26" stroke="#000" stroke-width="0.35" text-anchor="end">50</text>
<line x1="923.7" y1="1910.51" x2="931.7" y2="1910.51" stroke="#000" stroke-width="2.9"/>
<text x="923.43" y="1919.82" font-size="26" stroke="#000" stroke-width="0.35" text-anchor="end">0</text>
<line x1="931.7" y1="1910.51" x2="931.7" y2="1918.51" stroke="#000" stroke-width="2.9"/>
<text x="931.7" y="1945.23" font-size="26" stroke="#000" stroke-width="0.35" text-anchor="middle">0</text>
<line x1="1025.97" y1="1910.51" x2="1025.97" y2="1918.51" stroke="#000" stroke-width="2.9"/>
<text x="1025.97" y="1945.23" font-size="26" stroke="#000" stroke-width="0.35" text-anchor="middle">20</text>
<line x1="1120.24" y1="1910.51" x2="1120.24" y2="1918.51" stroke="#000" stroke-width="2.9"/>
<text x="1120.24" y="1945.23" font-size="26" stroke="#000" stroke-width="0.35" text-anchor="middle">40</text>
<line x1="1214.09" y1="1910.51" x2="1214.09" y2="1918.51" stroke="#000" stroke-width="2.9"/>
<text x="1214.09" y="1945.23" font-size="26" stroke="#000" stroke-width="0.35" text-anchor="middle">60</text>
<line x1="1308.36" y1="1910.51" x2="1308.36" y2="1918.51" stroke="#000" stroke-width="2.9"/>
<text x="1308.36" y="1945.23" font-size="26" stroke="#000" stroke-width="0.35" text-anchor="middle">80</text>
<text x="1120.24" y="1979.53" font-size="26" stroke="#000" stroke-width="0.35" text-anchor="middle">Time after A20 injection (days)</text>
<text transform="translate(863.47 1762.53) rotate(-90)" font-size="26" stroke="#000" stroke-width="0.35" text-anchor="middle">Percent survival</text>
<path d="M931.7 1650.93H1040.02V1677.39H1042.09V1703.43H1063.59V1729.05H1086.33V1755.09H1091.29V1780.72H1115.27V1806.76H1157.45V1832.8H1166.96V1858.43H1171.92V1884.47H1199.62V1910.51" fill="none" stroke="#000" stroke-width="2.8" stroke-linejoin="miter"/>
<circle cx="1040.02" cy="1677.39" r="7.35" fill="#808080" stroke="#000" stroke-width="2.5"/>
<circle cx="1042.09" cy="1703.43" r="7.35" fill="#808080" stroke="#000" stroke-width="2.5"/>
<circle cx="1063.59" cy="1729.05" r="7.35" fill="#808080" stroke="#000" stroke-width="2.5"/>
<circle cx="1086.33" cy="1755.09" r="7.35" fill="#808080" stroke="#000" stroke-width="2.5"/>
<circle cx="1091.29" cy="1780.72" r="7.35" fill="#808080" stroke="#000" stroke-width="2.5"/>
<circle cx="1115.27" cy="1806.76" r="7.35" fill="#808080" stroke="#000" stroke-width="2.5"/>
<circle cx="1157.45" cy="1832.8" r="7.35" fill="#808080" stroke="#000" stroke-width="2.5"/>
<circle cx="1166.96" cy="1858.43" r="7.35" fill="#808080" stroke="#000" stroke-width="2.5"/>
<circle cx="1171.92" cy="1884.47" r="7.35" fill="#808080" stroke="#000" stroke-width="2.5"/>
<circle cx="1199.62" cy="1910.51" r="7.35" fill="#808080" stroke="#000" stroke-width="2.5"/>
<path d="M931.7 1650.93H1059.04V1677.39H1087.16V1703.43H1089.23V1729.05H1091.29V1755.09H1101.22V1780.72H1103.7V1806.76H1110.73V1832.8H1115.27V1858.43H1142.98V1884.47H1204.58V1910.51" fill="none" stroke="#000" stroke-width="2.8" stroke-linejoin="miter"/>
<circle cx="1059.04" cy="1677.39" r="7.35" fill="#8a10a8" stroke="#000" stroke-width="2.5"/>
<circle cx="1087.16" cy="1703.43" r="7.35" fill="#8a10a8" stroke="#000" stroke-width="2.5"/>
<circle cx="1089.23" cy="1729.05" r="7.35" fill="#8a10a8" stroke="#000" stroke-width="2.5"/>
<circle cx="1091.29" cy="1755.09" r="7.35" fill="#8a10a8" stroke="#000" stroke-width="2.5"/>
<circle cx="1101.22" cy="1780.72" r="7.35" fill="#8a10a8" stroke="#000" stroke-width="2.5"/>
<circle cx="1103.7" cy="1806.76" r="7.35" fill="#8a10a8" stroke="#000" stroke-width="2.5"/>
<circle cx="1110.73" cy="1832.8" r="7.35" fill="#8a10a8" stroke="#000" stroke-width="2.5"/>
<circle cx="1115.27" cy="1858.43" r="7.35" fill="#8a10a8" stroke="#000" stroke-width="2.5"/>
<circle cx="1142.98" cy="1884.47" r="7.35" fill="#8a10a8" stroke="#000" stroke-width="2.5"/>
<circle cx="1204.58" cy="1910.51" r="7.35" fill="#8a10a8" stroke="#000" stroke-width="2.5"/>
<line x1="898.94" y1="2024.59" x2="923.94" y2="2024.59" stroke="#000" stroke-width="2.6"/>
<circle cx="911.44" cy="2024.59" r="7.35" fill="#808080" stroke="#000" stroke-width="2.5"/>
<text x="938.31" y="2033.27" font-size="26" stroke="#000" stroke-width="0.35">B-NHL + Prednisolone (n=10)</text>
<line x1="899.76" y1="2077.91" x2="924.76" y2="2077.91" stroke="#000" stroke-width="2.6"/>
<circle cx="912.26" cy="2077.91" r="7.35" fill="#8a10a8" stroke="#000" stroke-width="2.5"/>
<text x="947.41" y="2071.29" font-size="26" stroke="#000" stroke-width="0.35">B-NHL + CD19 CAR</text>
<text x="940.38" y="2101.47" font-size="26" stroke="#000" stroke-width="0.35">+ Prednisolone (n=10)</text>
<text x="1464.91" y="1641.8" font-size="62" stroke="#000" stroke-width="0.5">m</text>
<text x="1773.94" y="1643.92" font-size="38" stroke="#000" stroke-width="0.35" text-anchor="middle">E2A-PBX1</text>
<rect x="1590.48" y="1658.35" width="385.48" height="284.54" fill="none" stroke="#000" stroke-width="2.9"/>
<line x1="1582.48" y1="1685.15" x2="1590.48" y2="1685.15" stroke="#000" stroke-width="2.9"/>
<text x="1582.23" y="1694.89" font-size="27.2" stroke="#000" stroke-width="0.35" text-anchor="end">100</text>
<line x1="1582.48" y1="1813.81" x2="1590.48" y2="1813.81" stroke="#000" stroke-width="2.9"/>
<text x="1582.23" y="1823.55" font-size="27.2" stroke="#000" stroke-width="0.35" text-anchor="end">50</text>
<line x1="1582.48" y1="1942.89" x2="1590.48" y2="1942.89" stroke="#000" stroke-width="2.9"/>
<text x="1582.23" y="1952.63" font-size="27.2" stroke="#000" stroke-width="0.35" text-anchor="end">0</text>
<line x1="1590.48" y1="1942.89" x2="1590.48" y2="1950.89" stroke="#000" stroke-width="2.9"/>
<text x="1590.48" y="1977.94" font-size="27.2" stroke="#000" stroke-width="0.35" text-anchor="middle">0</text>
<line x1="1686.95" y1="1942.89" x2="1686.95" y2="1950.89" stroke="#000" stroke-width="2.9"/>
<text x="1686.95" y="1977.94" font-size="27.2" stroke="#000" stroke-width="0.35" text-anchor="middle">20</text>
<line x1="1783.43" y1="1942.89" x2="1783.43" y2="1950.89" stroke="#000" stroke-width="2.9"/>
<text x="1783.43" y="1977.94" font-size="27.2" stroke="#000" stroke-width="0.35" text-anchor="middle">40</text>
<line x1="1879.49" y1="1942.89" x2="1879.49" y2="1950.89" stroke="#000" stroke-width="2.9"/>
<text x="1879.49" y="1977.94" font-size="27.2" stroke="#000" stroke-width="0.35" text-anchor="middle">60</text>
<line x1="1975.96" y1="1942.89" x2="1975.96" y2="1950.89" stroke="#000" stroke-width="2.9"/>
<text x="1975.96" y="1977.94" font-size="27.2" stroke="#000" stroke-width="0.35" text-anchor="middle">80</text>
<text x="1784.25" y="2011.75" font-size="27.2" stroke="#000" stroke-width="0.35" text-anchor="middle">Time after E2A-PBX1 injection (days)</text>
<text transform="translate(1522.45 1796.49) rotate(-90)" font-size="27.2" stroke="#000" stroke-width="0.35" text-anchor="middle">Percent survival</text>
<path d="M1590.48 1685.15H1638.71V1711.13H1667.57V1736.7H1668.81V1762.27H1670.05V1814.23H1682V1839.79H1705.92V1865.36H1708.39V1891.34H1720.35V1916.91H1729.83V1942.89" fill="none" stroke="#000" stroke-width="2.8" stroke-linejoin="miter"/>
<circle cx="1638.71" cy="1711.13" r="7.35" fill="#6e6e6e" stroke="#000" stroke-width="2.5"/>
<circle cx="1667.57" cy="1736.7" r="7.35" fill="#6e6e6e" stroke="#000" stroke-width="2.5"/>
<circle cx="1668.81" cy="1762.27" r="7.35" fill="#6e6e6e" stroke="#000" stroke-width="2.5"/>
<circle cx="1670.05" cy="1814.23" r="7.35" fill="#6e6e6e" stroke="#000" stroke-width="2.5"/>
<circle cx="1682" cy="1839.79" r="7.35" fill="#6e6e6e" stroke="#000" stroke-width="2.5"/>
<circle cx="1705.92" cy="1865.36" r="7.35" fill="#6e6e6e" stroke="#000" stroke-width="2.5"/>
<circle cx="1708.39" cy="1891.34" r="7.35" fill="#6e6e6e" stroke="#000" stroke-width="2.5"/>
<circle cx="1720.35" cy="1916.91" r="7.35" fill="#6e6e6e" stroke="#000" stroke-width="2.5"/>
<circle cx="1729.83" cy="1942.89" r="7.35" fill="#6e6e6e" stroke="#000" stroke-width="2.5"/>
<path d="M1590.48 1685.15H1720.35V1711.13H1730.24V1736.7H1759.51V1762.27H1761.57V1788.25H1797.44V1814.23H1807.34V1839.79H1831.25V1865.36H1841.15V1891.34H1843.21V1916.91H1870.01V1942.89" fill="none" stroke="#000" stroke-width="2.8" stroke-linejoin="miter"/>
<circle cx="1720.35" cy="1711.13" r="7.35" fill="#22c27e" stroke="#000" stroke-width="2.5"/>
<circle cx="1730.24" cy="1736.7" r="7.35" fill="#22c27e" stroke="#000" stroke-width="2.5"/>
<circle cx="1759.51" cy="1762.27" r="7.35" fill="#22c27e" stroke="#000" stroke-width="2.5"/>
<circle cx="1761.57" cy="1788.25" r="7.35" fill="#22c27e" stroke="#000" stroke-width="2.5"/>
<circle cx="1797.44" cy="1814.23" r="7.35" fill="#22c27e" stroke="#000" stroke-width="2.5"/>
<circle cx="1807.34" cy="1839.79" r="7.35" fill="#22c27e" stroke="#000" stroke-width="2.5"/>
<circle cx="1831.25" cy="1865.36" r="7.35" fill="#22c27e" stroke="#000" stroke-width="2.5"/>
<circle cx="1841.15" cy="1891.34" r="7.35" fill="#22c27e" stroke="#000" stroke-width="2.5"/>
<circle cx="1843.21" cy="1916.91" r="7.35" fill="#22c27e" stroke="#000" stroke-width="2.5"/>
<circle cx="1870.01" cy="1942.89" r="7.35" fill="#22c27e" stroke="#000" stroke-width="2.5"/>
<path d="M1590.48 1685.15H1686.95V1711.13H1691.49V1736.7H1696.43V1762.27H1705.92V1788.25H1725.71V1814.23H1879.49V1814.23" fill="none" stroke="#000" stroke-width="2.8" stroke-linejoin="miter"/>
<circle cx="1686.95" cy="1711.13" r="7.35" fill="#0a0ab4" stroke="#000" stroke-width="2.5"/>
<circle cx="1691.49" cy="1736.7" r="7.35" fill="#0a0ab4" stroke="#000" stroke-width="2.5"/>
<circle cx="1696.43" cy="1762.27" r="7.35" fill="#0a0ab4" stroke="#000" stroke-width="2.5"/>
<circle cx="1705.92" cy="1788.25" r="7.35" fill="#0a0ab4" stroke="#000" stroke-width="2.5"/>
<circle cx="1725.71" cy="1814.23" r="7.35" fill="#0a0ab4" stroke="#000" stroke-width="2.5"/>
<circle cx="1879.49" cy="1814.23" r="7.35" fill="#0a0ab4" stroke="#000" stroke-width="2.5"/>
<path d="M1590.48 1685.15H1835.79V1711.13H1878.25V1711.13H1881.55V1711.13" fill="none" stroke="#000" stroke-width="2.8" stroke-linejoin="miter"/>
<circle cx="1835.79" cy="1711.13" r="7.35" fill="#ff0000" stroke="#000" stroke-width="2.5"/>
<circle cx="1878.25" cy="1711.13" r="7.35" fill="#ff0000" stroke="#000" stroke-width="2.5"/>
<circle cx="1881.55" cy="1711.13" r="7.35" fill="#ff0000" stroke="#000" stroke-width="2.5"/>
<line x1="1473.26" y1="2055.46" x2="1498.26" y2="2055.46" stroke="#000" stroke-width="2.6"/>
<circle cx="1485.76" cy="2055.46" r="7.35" fill="#6e6e6e" stroke="#000" stroke-width="2.5"/>
<text x="1514.2" y="2064.54" font-size="27.3" stroke="#000" stroke-width="0.35">B-ALL + Vehicle (n=10)</text>
<line x1="1473.26" y1="2096.7" x2="1498.26" y2="2096.7" stroke="#000" stroke-width="2.6"/>
<circle cx="1485.76" cy="2096.7" r="7.35" fill="#22c27e" stroke="#000" stroke-width="2.5"/>
<text x="1514.2" y="2105.77" font-size="27.3" stroke="#000" stroke-width="0.35">B-ALL + Takinib (n=10)</text>
<line x1="1473.26" y1="2140.82" x2="1498.26" y2="2140.82" stroke="#000" stroke-width="2.6"/>
<circle cx="1485.76" cy="2140.82" r="7.35" fill="#0a0ab4" stroke="#000" stroke-width="2.5"/>
<text x="1514.2" y="2150.31" font-size="27.3" stroke="#000" stroke-width="0.35">B-ALL + CD19 CAR + Vehicle (n=10)</text>
<line x1="1473.26" y1="2187.01" x2="1498.26" y2="2187.01" stroke="#000" stroke-width="2.6"/>
<circle cx="1485.76" cy="2187.01" r="7.35" fill="#ff0000" stroke="#000" stroke-width="2.5"/>
<text x="1514.2" y="2196.49" font-size="27.3" stroke="#000" stroke-width="0.35">B-ALL + CD19 CAR + Takinib (n=10)</text>
<path d="M1975.96 2066.6H1988.33V2144.12H1975.96" fill="none" stroke="#000" stroke-width="2.7"/>
<path d="M1975.96 2148.25H1988.33V2194.43H1975.96" fill="none" stroke="#000" stroke-width="2.7"/>
<text x="1998.64" y="2117.32" font-size="27.2" stroke="#000" stroke-width="0.35" font-style="italic">p=0.006</text>
<text x="2002.76" y="2182.89" font-size="27.2" stroke="#000" stroke-width="0.35" font-style="italic">p=0.04</text>
<text x="39.31" y="2233.6" font-size="62" stroke="#000" stroke-width="0.5">n</text>
<text x="321.68" y="2246.8" font-size="38" stroke="#000" stroke-width="0.35" text-anchor="middle">E2A-PBX1</text>
<rect x="151.74" y="2262.09" width="373.78" height="281.06" fill="none" stroke="#000" stroke-width="2.9"/>
<line x1="143.74" y1="2288.13" x2="151.74" y2="2288.13" stroke="#000" stroke-width="2.9"/>
<text x="142.65" y="2297.55" font-size="26.3" stroke="#000" stroke-width="0.35" text-anchor="end">100</text>
<line x1="143.74" y1="2415.43" x2="151.74" y2="2415.43" stroke="#000" stroke-width="2.9"/>
<text x="142.65" y="2424.85" font-size="26.3" stroke="#000" stroke-width="0.35" text-anchor="end">50</text>
<line x1="143.74" y1="2543.15" x2="151.74" y2="2543.15" stroke="#000" stroke-width="2.9"/>
<text x="142.65" y="2552.57" font-size="26.3" stroke="#000" stroke-width="0.35" text-anchor="end">0</text>
<line x1="151.74" y1="2543.15" x2="151.74" y2="2551.15" stroke="#000" stroke-width="2.9"/>
<text x="151.74" y="2576.63" font-size="26.3" stroke="#000" stroke-width="0.35" text-anchor="middle">0</text>
<line x1="245.19" y1="2543.15" x2="245.19" y2="2551.15" stroke="#000" stroke-width="2.9"/>
<text x="245.19" y="2576.63" font-size="26.3" stroke="#000" stroke-width="0.35" text-anchor="middle">20</text>
<line x1="338.63" y1="2543.15" x2="338.63" y2="2551.15" stroke="#000" stroke-width="2.9"/>
<text x="338.63" y="2576.63" font-size="26.3" stroke="#000" stroke-width="0.35" text-anchor="middle">40</text>
<line x1="432.07" y1="2543.15" x2="432.07" y2="2551.15" stroke="#000" stroke-width="2.9"/>
<text x="432.07" y="2576.63" font-size="26.3" stroke="#000" stroke-width="0.35" text-anchor="middle">60</text>
<line x1="525.52" y1="2543.15" x2="525.52" y2="2551.15" stroke="#000" stroke-width="2.9"/>
<text x="525.52" y="2576.63" font-size="26.3" stroke="#000" stroke-width="0.35" text-anchor="middle">80</text>
<text x="339.04" y="2605.56" font-size="26.3" stroke="#000" stroke-width="0.35" text-anchor="middle">Time after E2A-PBX1 injection (days)</text>
<text transform="translate(86 2396.42) rotate(-90)" font-size="26.3" stroke="#000" stroke-width="0.35" text-anchor="middle">Percent survival</text>
<path d="M151.74 2288.13H225.75V2313.76H227.82V2338.97H230.71V2364.6H235.68V2415.43H240.22V2466.27H249.73V2491.49H277.85V2517.11H357.24V2543.15" fill="none" stroke="#000" stroke-width="2.8" stroke-linejoin="miter"/>
<circle cx="225.75" cy="2313.76" r="7.35" fill="#a6a6a6" stroke="#000" stroke-width="2.5"/>
<circle cx="227.82" cy="2338.97" r="7.35" fill="#a6a6a6" stroke="#000" stroke-width="2.5"/>
<circle cx="230.71" cy="2364.6" r="7.35" fill="#a6a6a6" stroke="#000" stroke-width="2.5"/>
<circle cx="235.68" cy="2415.43" r="7.35" fill="#a6a6a6" stroke="#000" stroke-width="2.5"/>
<circle cx="240.22" cy="2466.27" r="7.35" fill="#a6a6a6" stroke="#000" stroke-width="2.5"/>
<circle cx="249.73" cy="2491.49" r="7.35" fill="#a6a6a6" stroke="#000" stroke-width="2.5"/>
<circle cx="277.85" cy="2517.11" r="7.35" fill="#a6a6a6" stroke="#000" stroke-width="2.5"/>
<circle cx="357.24" cy="2543.15" r="7.35" fill="#a6a6a6" stroke="#000" stroke-width="2.5"/>
<path d="M151.74 2288.13H231.13V2313.76H233.61V2338.97H249.73V2364.6H254.7V2389.81H257.18V2415.43H258V2441.06H258.83V2466.27H272.89V2491.49H282.4V2517.11H329.12V2543.15" fill="none" stroke="#000" stroke-width="2.8" stroke-linejoin="miter"/>
<circle cx="231.13" cy="2313.76" r="7.35" fill="#a818e6" stroke="#000" stroke-width="2.5"/>
<circle cx="233.61" cy="2338.97" r="7.35" fill="#a818e6" stroke="#000" stroke-width="2.5"/>
<circle cx="249.73" cy="2364.6" r="7.35" fill="#a818e6" stroke="#000" stroke-width="2.5"/>
<circle cx="254.7" cy="2389.81" r="7.35" fill="#a818e6" stroke="#000" stroke-width="2.5"/>
<circle cx="257.18" cy="2415.43" r="7.35" fill="#a818e6" stroke="#000" stroke-width="2.5"/>
<circle cx="258" cy="2441.06" r="7.35" fill="#a818e6" stroke="#000" stroke-width="2.5"/>
<circle cx="258.83" cy="2466.27" r="7.35" fill="#a818e6" stroke="#000" stroke-width="2.5"/>
<circle cx="272.89" cy="2491.49" r="7.35" fill="#a818e6" stroke="#000" stroke-width="2.5"/>
<circle cx="282.4" cy="2517.11" r="7.35" fill="#a818e6" stroke="#000" stroke-width="2.5"/>
<circle cx="329.12" cy="2543.15" r="7.35" fill="#a818e6" stroke="#000" stroke-width="2.5"/>
<line x1="35.88" y1="2651.85" x2="60.88" y2="2651.85" stroke="#000" stroke-width="2.6"/>
<circle cx="48.38" cy="2651.85" r="7.35" fill="#a6a6a6" stroke="#000" stroke-width="2.5"/>
<text x="75.25" y="2660.95" font-size="26.4" stroke="#000" stroke-width="0.35">B-ALL +Prednisolone (n=10)</text>
<line x1="35.88" y1="2690.29" x2="60.88" y2="2690.29" stroke="#000" stroke-width="2.6"/>
<circle cx="48.38" cy="2690.29" r="7.35" fill="#a818e6" stroke="#000" stroke-width="2.5"/>
<text x="75.25" y="2699.39" font-size="26.4" stroke="#000" stroke-width="0.35">B-ALL + CD19 CAR + Prednisolone (n=10)</text>
<text x="647.6" y="2240.8" font-size="62" stroke="#000" stroke-width="0.5">o</text>
<g shape-rendering="crispEdges">
<rect x="715" y="2302" width="42.2" height="25.18" fill="#9ecca8"/>
<rect x="756.7" y="2302" width="42.2" height="25.18" fill="#238b45"/>
<rect x="798.39" y="2302" width="42.2" height="25.18" fill="#c7e1c9"/>
<rect x="840.09" y="2302" width="42.2" height="25.18" fill="#d1e7d1"/>
<rect x="881.78" y="2302" width="42.2" height="25.18" fill="#bddcc1"/>
<rect x="923.48" y="2302" width="42.2" height="25.18" fill="#94c6a0"/>
<rect x="965.17" y="2302" width="42.2" height="25.18" fill="#94c6a0"/>
<rect x="1006.87" y="2302" width="42.2" height="25.18" fill="#94c6a0"/>
<rect x="1048.56" y="2302" width="42.2" height="25.18" fill="#d1e7d1"/>
<rect x="1090.26" y="2302" width="42.2" height="25.18" fill="#c7e1c9"/>
<rect x="1131.95" y="2302" width="42.2" height="25.18" fill="#d1e7d1"/>
<rect x="1173.65" y="2302" width="42.2" height="25.18" fill="#a8d1b0"/>
<rect x="1215.34" y="2302" width="42.2" height="25.18" fill="#b2d7b8"/>
<rect x="1257.04" y="2302" width="42.2" height="25.18" fill="#bddcc1"/>
<rect x="1298.73" y="2302" width="42.2" height="25.18" fill="#bddcc1"/>
<rect x="1340.43" y="2302" width="42.2" height="25.18" fill="#b2d7b8"/>
<rect x="1382.12" y="2302" width="42.2" height="25.18" fill="#e6f2e2"/>
<rect x="1423.82" y="2302" width="42.2" height="25.18" fill="#d1e7d1"/>
<rect x="1465.51" y="2302" width="42.2" height="25.18" fill="#bddcc1"/>
<rect x="1507.21" y="2302" width="42.2" height="25.18" fill="#dcecda"/>
<rect x="1548.9" y="2302" width="42.2" height="25.18" fill="#e6f2e2"/>
<rect x="715" y="2326.68" width="42.2" height="25.18" fill="#9ecca8"/>
<rect x="756.7" y="2326.68" width="42.2" height="25.18" fill="#eaf4e5"/>
<rect x="798.39" y="2326.68" width="42.2" height="25.18" fill="#dcecda"/>
<rect x="840.09" y="2326.68" width="42.2" height="25.18" fill="#c7e1c9"/>
<rect x="881.78" y="2326.68" width="42.2" height="25.18" fill="#e6f2e2"/>
<rect x="923.48" y="2326.68" width="42.2" height="25.18" fill="#94c6a0"/>
<rect x="965.17" y="2326.68" width="42.2" height="25.18" fill="#238b45"/>
<rect x="1006.87" y="2326.68" width="42.2" height="25.18" fill="#94c6a0"/>
<rect x="1048.56" y="2326.68" width="42.2" height="25.18" fill="#eaf4e5"/>
<rect x="1090.26" y="2326.68" width="42.2" height="25.18" fill="#eaf4e5"/>
<rect x="1131.95" y="2326.68" width="42.2" height="25.18" fill="#389656"/>
<rect x="1173.65" y="2326.68" width="42.2" height="25.18" fill="#d1e7d1"/>
<rect x="1215.34" y="2326.68" width="42.2" height="25.18" fill="#e6f2e2"/>
<rect x="1257.04" y="2326.68" width="42.2" height="25.18" fill="#bddcc1"/>
<rect x="1298.73" y="2326.68" width="42.2" height="25.18" fill="#c7e1c9"/>
<rect x="1340.43" y="2326.68" width="42.2" height="25.18" fill="#b2d7b8"/>
<rect x="1382.12" y="2326.68" width="42.2" height="25.18" fill="#e6f2e2"/>
<rect x="1423.82" y="2326.68" width="42.2" height="25.18" fill="#d1e7d1"/>
<rect x="1465.51" y="2326.68" width="42.2" height="25.18" fill="#56a66e"/>
<rect x="1507.21" y="2326.68" width="42.2" height="25.18" fill="#238b45"/>
<rect x="1548.9" y="2326.68" width="42.2" height="25.18" fill="#238b45"/>
<rect x="715" y="2351.35" width="42.2" height="25.18" fill="#7fbc8f"/>
<rect x="756.7" y="2351.35" width="42.2" height="25.18" fill="#eaf4e5"/>
<rect x="798.39" y="2351.35" width="42.2" height="25.18" fill="#9ecca8"/>
<rect x="840.09" y="2351.35" width="42.2" height="25.18" fill="#dcecda"/>
<rect x="881.78" y="2351.35" width="42.2" height="25.18" fill="#a8d1b0"/>
<rect x="923.48" y="2351.35" width="42.2" height="25.18" fill="#429b5e"/>
<rect x="965.17" y="2351.35" width="42.2" height="25.18" fill="#238b45"/>
<rect x="1006.87" y="2351.35" width="42.2" height="25.18" fill="#8ac198"/>
<rect x="1048.56" y="2351.35" width="42.2" height="25.18" fill="#eaf4e5"/>
<rect x="1090.26" y="2351.35" width="42.2" height="25.18" fill="#a8d1b0"/>
<rect x="1131.95" y="2351.35" width="42.2" height="25.18" fill="#8ac198"/>
<rect x="1173.65" y="2351.35" width="42.2" height="25.18" fill="#8ac198"/>
<rect x="1215.34" y="2351.35" width="42.2" height="25.18" fill="#94c6a0"/>
<rect x="1257.04" y="2351.35" width="42.2" height="25.18" fill="#d1e7d1"/>
<rect x="1298.73" y="2351.35" width="42.2" height="25.18" fill="#b2d7b8"/>
<rect x="1340.43" y="2351.35" width="42.2" height="25.18" fill="#b2d7b8"/>
<rect x="1382.12" y="2351.35" width="42.2" height="25.18" fill="#a8d1b0"/>
<rect x="1423.82" y="2351.35" width="42.2" height="25.18" fill="#d1e7d1"/>
<rect x="1465.51" y="2351.35" width="42.2" height="25.18" fill="#8ac198"/>
<rect x="1507.21" y="2351.35" width="42.2" height="25.18" fill="#e0eedd"/>
<rect x="1548.9" y="2351.35" width="42.2" height="25.18" fill="#eaf4e5"/>
<rect x="715" y="2376.03" width="42.2" height="25.18" fill="#75b687"/>
<rect x="756.7" y="2376.03" width="42.2" height="25.18" fill="#eaf4e5"/>
<rect x="798.39" y="2376.03" width="42.2" height="25.18" fill="#d1e7d1"/>
<rect x="840.09" y="2376.03" width="42.2" height="25.18" fill="#dcecda"/>
<rect x="881.78" y="2376.03" width="42.2" height="25.18" fill="#bddcc1"/>
<rect x="923.48" y="2376.03" width="42.2" height="25.18" fill="#a8d1b0"/>
<rect x="965.17" y="2376.03" width="42.2" height="25.18" fill="#9ecca8"/>
<rect x="1006.87" y="2376.03" width="42.2" height="25.18" fill="#bddcc1"/>
<rect x="1048.56" y="2376.03" width="42.2" height="25.18" fill="#eaf4e5"/>
<rect x="1090.26" y="2376.03" width="42.2" height="25.18" fill="#a8d1b0"/>
<rect x="1131.95" y="2376.03" width="42.2" height="25.18" fill="#e0eedd"/>
<rect x="1173.65" y="2376.03" width="42.2" height="25.18" fill="#b2d7b8"/>
<rect x="1215.34" y="2376.03" width="42.2" height="25.18" fill="#b2d7b8"/>
<rect x="1257.04" y="2376.03" width="42.2" height="25.18" fill="#d1e7d1"/>
<rect x="1298.73" y="2376.03" width="42.2" height="25.18" fill="#d1e7d1"/>
<rect x="1340.43" y="2376.03" width="42.2" height="25.18" fill="#e6f2e2"/>
<rect x="1382.12" y="2376.03" width="42.2" height="25.18" fill="#e6f2e2"/>
<rect x="1423.82" y="2376.03" width="42.2" height="25.18" fill="#e6f2e2"/>
<rect x="1465.51" y="2376.03" width="42.2" height="25.18" fill="#e6f2e2"/>
<rect x="1507.21" y="2376.03" width="42.2" height="25.18" fill="#e6f2e2"/>
<rect x="1548.9" y="2376.03" width="42.2" height="25.18" fill="#eaf4e5"/>
<rect x="715" y="2400.7" width="42.2" height="25.18" fill="#75b687"/>
<rect x="756.7" y="2400.7" width="42.2" height="25.18" fill="#eaf4e5"/>
<rect x="798.39" y="2400.7" width="42.2" height="25.18" fill="#a8d1b0"/>
<rect x="840.09" y="2400.7" width="42.2" height="25.18" fill="#d7ead6"/>
<rect x="881.78" y="2400.7" width="42.2" height="25.18" fill="#c7e1c9"/>
<rect x="923.48" y="2400.7" width="42.2" height="25.18" fill="#7fbc8f"/>
<rect x="965.17" y="2400.7" width="42.2" height="25.18" fill="#8ac198"/>
<rect x="1006.87" y="2400.7" width="42.2" height="25.18" fill="#8ac198"/>
<rect x="1048.56" y="2400.7" width="42.2" height="25.18" fill="#e6f2e2"/>
<rect x="1090.26" y="2400.7" width="42.2" height="25.18" fill="#d1e7d1"/>
<rect x="1131.95" y="2400.7" width="42.2" height="25.18" fill="#d1e7d1"/>
<rect x="1173.65" y="2400.7" width="42.2" height="25.18" fill="#8ac198"/>
<rect x="1215.34" y="2400.7" width="42.2" height="25.18" fill="#94c6a0"/>
<rect x="1257.04" y="2400.7" width="42.2" height="25.18" fill="#bddcc1"/>
<rect x="1298.73" y="2400.7" width="42.2" height="25.18" fill="#94c6a0"/>
<rect x="1340.43" y="2400.7" width="42.2" height="25.18" fill="#94c6a0"/>
<rect x="1382.12" y="2400.7" width="42.2" height="25.18" fill="#e6f2e2"/>
<rect x="1423.82" y="2400.7" width="42.2" height="25.18" fill="#d1e7d1"/>
<rect x="1465.51" y="2400.7" width="42.2" height="25.18" fill="#2d904d"/>
<rect x="1507.21" y="2400.7" width="42.2" height="25.18" fill="#bddcc1"/>
<rect x="1548.9" y="2400.7" width="42.2" height="25.18" fill="#eaf4e5"/>
<rect x="715" y="2425.38" width="42.2" height="25.18" fill="#60ab77"/>
<rect x="756.7" y="2425.38" width="42.2" height="25.18" fill="#e4f1e0"/>
<rect x="798.39" y="2425.38" width="42.2" height="25.18" fill="#56a66e"/>
<rect x="840.09" y="2425.38" width="42.2" height="25.18" fill="#429b5e"/>
<rect x="881.78" y="2425.38" width="42.2" height="25.18" fill="#389656"/>
<rect x="923.48" y="2425.38" width="42.2" height="25.18" fill="#6bb17f"/>
<rect x="965.17" y="2425.38" width="42.2" height="25.18" fill="#8ac198"/>
<rect x="1006.87" y="2425.38" width="42.2" height="25.18" fill="#56a66e"/>
<rect x="1048.56" y="2425.38" width="42.2" height="25.18" fill="#6bb17f"/>
<rect x="1090.26" y="2425.38" width="42.2" height="25.18" fill="#94c6a0"/>
<rect x="1131.95" y="2425.38" width="42.2" height="25.18" fill="#e0eedd"/>
<rect x="1173.65" y="2425.38" width="42.2" height="25.18" fill="#238b45"/>
<rect x="1215.34" y="2425.38" width="42.2" height="25.18" fill="#238b45"/>
<rect x="1257.04" y="2425.38" width="42.2" height="25.18" fill="#60ab77"/>
<rect x="1298.73" y="2425.38" width="42.2" height="25.18" fill="#238b45"/>
<rect x="1340.43" y="2425.38" width="42.2" height="25.18" fill="#56a66e"/>
<rect x="1382.12" y="2425.38" width="42.2" height="25.18" fill="#238b45"/>
<rect x="1423.82" y="2425.38" width="42.2" height="25.18" fill="#6bb17f"/>
<rect x="1465.51" y="2425.38" width="42.2" height="25.18" fill="#8ac198"/>
<rect x="1507.21" y="2425.38" width="42.2" height="25.18" fill="#bddcc1"/>
<rect x="1548.9" y="2425.38" width="42.2" height="25.18" fill="#e6f2e2"/>
<rect x="715" y="2450.05" width="42.2" height="25.18" fill="#4ca166"/>
<rect x="756.7" y="2450.05" width="42.2" height="25.18" fill="#e6f2e2"/>
<rect x="798.39" y="2450.05" width="42.2" height="25.18" fill="#7fbc8f"/>
<rect x="840.09" y="2450.05" width="42.2" height="25.18" fill="#dcecda"/>
<rect x="881.78" y="2450.05" width="42.2" height="25.18" fill="#238b45"/>
<rect x="923.48" y="2450.05" width="42.2" height="25.18" fill="#75b687"/>
<rect x="965.17" y="2450.05" width="42.2" height="25.18" fill="#56a66e"/>
<rect x="1006.87" y="2450.05" width="42.2" height="25.18" fill="#238b45"/>
<rect x="1048.56" y="2450.05" width="42.2" height="25.18" fill="#e6f2e2"/>
<rect x="1090.26" y="2450.05" width="42.2" height="25.18" fill="#238b45"/>
<rect x="1131.95" y="2450.05" width="42.2" height="25.18" fill="#dcecda"/>
<rect x="1173.65" y="2450.05" width="42.2" height="25.18" fill="#429b5e"/>
<rect x="1215.34" y="2450.05" width="42.2" height="25.18" fill="#a8d1b0"/>
<rect x="1257.04" y="2450.05" width="42.2" height="25.18" fill="#7fbc8f"/>
<rect x="1298.73" y="2450.05" width="42.2" height="25.18" fill="#429b5e"/>
<rect x="1340.43" y="2450.05" width="42.2" height="25.18" fill="#8ac198"/>
<rect x="1382.12" y="2450.05" width="42.2" height="25.18" fill="#a8d1b0"/>
<rect x="1423.82" y="2450.05" width="42.2" height="25.18" fill="#d1e7d1"/>
<rect x="1465.51" y="2450.05" width="42.2" height="25.18" fill="#238b45"/>
<rect x="1507.21" y="2450.05" width="42.2" height="25.18" fill="#dcecda"/>
<rect x="1548.9" y="2450.05" width="42.2" height="25.18" fill="#eaf4e5"/>
<rect x="715" y="2474.72" width="42.2" height="25.18" fill="#238b45"/>
<rect x="756.7" y="2474.72" width="42.2" height="25.18" fill="#eaf4e5"/>
<rect x="798.39" y="2474.72" width="42.2" height="25.18" fill="#c7e1c9"/>
<rect x="840.09" y="2474.72" width="42.2" height="25.18" fill="#eaf4e5"/>
<rect x="881.78" y="2474.72" width="42.2" height="25.18" fill="#9ecca8"/>
<rect x="923.48" y="2474.72" width="42.2" height="25.18" fill="#9ecca8"/>
<rect x="965.17" y="2474.72" width="42.2" height="25.18" fill="#8ac198"/>
<rect x="1006.87" y="2474.72" width="42.2" height="25.18" fill="#bddcc1"/>
<rect x="1048.56" y="2474.72" width="42.2" height="25.18" fill="#eaf4e5"/>
<rect x="1090.26" y="2474.72" width="42.2" height="25.18" fill="#9ecca8"/>
<rect x="1131.95" y="2474.72" width="42.2" height="25.18" fill="#dcecda"/>
<rect x="1173.65" y="2474.72" width="42.2" height="25.18" fill="#75b687"/>
<rect x="1215.34" y="2474.72" width="42.2" height="25.18" fill="#a8d1b0"/>
<rect x="1257.04" y="2474.72" width="42.2" height="25.18" fill="#d1e7d1"/>
<rect x="1298.73" y="2474.72" width="42.2" height="25.18" fill="#b2d7b8"/>
<rect x="1340.43" y="2474.72" width="42.2" height="25.18" fill="#b2d7b8"/>
<rect x="1382.12" y="2474.72" width="42.2" height="25.18" fill="#e6f2e2"/>
<rect x="1423.82" y="2474.72" width="42.2" height="25.18" fill="#d1e7d1"/>
<rect x="1465.51" y="2474.72" width="42.2" height="25.18" fill="#bddcc1"/>
<rect x="1507.21" y="2474.72" width="42.2" height="25.18" fill="#e0eedd"/>
<rect x="1548.9" y="2474.72" width="42.2" height="25.18" fill="#eaf4e5"/>
<rect x="715" y="2499.4" width="42.2" height="25.18" fill="#d1e7d1"/>
<rect x="756.7" y="2499.4" width="42.2" height="25.18" fill="#e6f2e2"/>
<rect x="798.39" y="2499.4" width="42.2" height="25.18" fill="#238b45"/>
<rect x="840.09" y="2499.4" width="42.2" height="25.18" fill="#238b45"/>
<rect x="881.78" y="2499.4" width="42.2" height="25.18" fill="#389656"/>
<rect x="923.48" y="2499.4" width="42.2" height="25.18" fill="#238b45"/>
<rect x="965.17" y="2499.4" width="42.2" height="25.18" fill="#8ac198"/>
<rect x="1006.87" y="2499.4" width="42.2" height="25.18" fill="#238b45"/>
<rect x="1048.56" y="2499.4" width="42.2" height="25.18" fill="#238b45"/>
<rect x="1090.26" y="2499.4" width="42.2" height="25.18" fill="#bddcc1"/>
<rect x="1131.95" y="2499.4" width="42.2" height="25.18" fill="#dcecda"/>
<rect x="1173.65" y="2499.4" width="42.2" height="25.18" fill="#7fbc8f"/>
<rect x="1215.34" y="2499.4" width="42.2" height="25.18" fill="#60ab77"/>
<rect x="1257.04" y="2499.4" width="42.2" height="25.18" fill="#238b45"/>
<rect x="1298.73" y="2499.4" width="42.2" height="25.18" fill="#4ca166"/>
<rect x="1340.43" y="2499.4" width="42.2" height="25.18" fill="#238b45"/>
<rect x="1382.12" y="2499.4" width="42.2" height="25.18" fill="#238b45"/>
<rect x="1423.82" y="2499.4" width="42.2" height="25.18" fill="#238b45"/>
<rect x="1465.51" y="2499.4" width="42.2" height="25.18" fill="#8ac198"/>
<rect x="1507.21" y="2499.4" width="42.2" height="25.18" fill="#bddcc1"/>
<rect x="1548.9" y="2499.4" width="42.2" height="25.18" fill="#e6f2e2"/>
<rect x="715" y="2524.08" width="42.2" height="25.18" fill="#d7ead6"/>
<rect x="756.7" y="2524.08" width="42.2" height="25.18" fill="#eaf4e5"/>
<rect x="798.39" y="2524.08" width="42.2" height="25.18" fill="#7fbc8f"/>
<rect x="840.09" y="2524.08" width="42.2" height="25.18" fill="#d1e7d1"/>
<rect x="881.78" y="2524.08" width="42.2" height="25.18" fill="#bddcc1"/>
<rect x="923.48" y="2524.08" width="42.2" height="25.18" fill="#238b45"/>
<rect x="965.17" y="2524.08" width="42.2" height="25.18" fill="#238b45"/>
<rect x="1006.87" y="2524.08" width="42.2" height="25.18" fill="#238b45"/>
<rect x="1048.56" y="2524.08" width="42.2" height="25.18" fill="#eaf4e5"/>
<rect x="1090.26" y="2524.08" width="42.2" height="25.18" fill="#a8d1b0"/>
<rect x="1131.95" y="2524.08" width="42.2" height="25.18" fill="#238b45"/>
<rect x="1173.65" y="2524.08" width="42.2" height="25.18" fill="#b2d7b8"/>
<rect x="1215.34" y="2524.08" width="42.2" height="25.18" fill="#94c6a0"/>
<rect x="1257.04" y="2524.08" width="42.2" height="25.18" fill="#bddcc1"/>
<rect x="1298.73" y="2524.08" width="42.2" height="25.18" fill="#c7e1c9"/>
<rect x="1340.43" y="2524.08" width="42.2" height="25.18" fill="#b2d7b8"/>
<rect x="1382.12" y="2524.08" width="42.2" height="25.18" fill="#a8d1b0"/>
<rect x="1423.82" y="2524.08" width="42.2" height="25.18" fill="#d1e7d1"/>
<rect x="1465.51" y="2524.08" width="42.2" height="25.18" fill="#9ecca8"/>
<rect x="1507.21" y="2524.08" width="42.2" height="25.18" fill="#e0eedd"/>
<rect x="1548.9" y="2524.08" width="42.2" height="25.18" fill="#eaf4e5"/>
<rect x="715" y="2548.75" width="42.2" height="25.18" fill="#e6f2e2"/>
<rect x="756.7" y="2548.75" width="42.2" height="25.18" fill="#eaf4e5"/>
<rect x="798.39" y="2548.75" width="42.2" height="25.18" fill="#d1e7d1"/>
<rect x="840.09" y="2548.75" width="42.2" height="25.18" fill="#d1e7d1"/>
<rect x="881.78" y="2548.75" width="42.2" height="25.18" fill="#d1e7d1"/>
<rect x="923.48" y="2548.75" width="42.2" height="25.18" fill="#b2d7b8"/>
<rect x="965.17" y="2548.75" width="42.2" height="25.18" fill="#9ecca8"/>
<rect x="1006.87" y="2548.75" width="42.2" height="25.18" fill="#a8d1b0"/>
<rect x="1048.56" y="2548.75" width="42.2" height="25.18" fill="#a8d1b0"/>
<rect x="1090.26" y="2548.75" width="42.2" height="25.18" fill="#e6f2e2"/>
<rect x="1131.95" y="2548.75" width="42.2" height="25.18" fill="#eaf4e5"/>
<rect x="1173.65" y="2548.75" width="42.2" height="25.18" fill="#b2d7b8"/>
<rect x="1215.34" y="2548.75" width="42.2" height="25.18" fill="#bddcc1"/>
<rect x="1257.04" y="2548.75" width="42.2" height="25.18" fill="#a8d1b0"/>
<rect x="1298.73" y="2548.75" width="42.2" height="25.18" fill="#c7e1c9"/>
<rect x="1340.43" y="2548.75" width="42.2" height="25.18" fill="#8ac198"/>
<rect x="1382.12" y="2548.75" width="42.2" height="25.18" fill="#a8d1b0"/>
<rect x="1423.82" y="2548.75" width="42.2" height="25.18" fill="#9ecca8"/>
<rect x="1465.51" y="2548.75" width="42.2" height="25.18" fill="#e6f2e2"/>
<rect x="1507.21" y="2548.75" width="42.2" height="25.18" fill="#e0eedd"/>
<rect x="1548.9" y="2548.75" width="42.2" height="25.18" fill="#eaf4e5"/>
<rect x="715" y="2573.43" width="42.2" height="25.18" fill="#e6f2e2"/>
<rect x="756.7" y="2573.43" width="42.2" height="25.18" fill="#eaf4e5"/>
<rect x="798.39" y="2573.43" width="42.2" height="25.18" fill="#e6f2e2"/>
<rect x="840.09" y="2573.43" width="42.2" height="25.18" fill="#eaf4e5"/>
<rect x="881.78" y="2573.43" width="42.2" height="25.18" fill="#eaf4e5"/>
<rect x="923.48" y="2573.43" width="42.2" height="25.18" fill="#eaf4e5"/>
<rect x="965.17" y="2573.43" width="42.2" height="25.18" fill="#9ecca8"/>
<rect x="1006.87" y="2573.43" width="42.2" height="25.18" fill="#eaf4e5"/>
<rect x="1048.56" y="2573.43" width="42.2" height="25.18" fill="#eaf4e5"/>
<rect x="1090.26" y="2573.43" width="42.2" height="25.18" fill="#eaf4e5"/>
<rect x="1131.95" y="2573.43" width="42.2" height="25.18" fill="#eaf4e5"/>
<rect x="1173.65" y="2573.43" width="42.2" height="25.18" fill="#e6f2e2"/>
<rect x="1215.34" y="2573.43" width="42.2" height="25.18" fill="#e6f2e2"/>
<rect x="1257.04" y="2573.43" width="42.2" height="25.18" fill="#d1e7d1"/>
<rect x="1298.73" y="2573.43" width="42.2" height="25.18" fill="#e6f2e2"/>
<rect x="1340.43" y="2573.43" width="42.2" height="25.18" fill="#e6f2e2"/>
<rect x="1382.12" y="2573.43" width="42.2" height="25.18" fill="#e6f2e2"/>
<rect x="1423.82" y="2573.43" width="42.2" height="25.18" fill="#d1e7d1"/>
<rect x="1465.51" y="2573.43" width="42.2" height="25.18" fill="#e6f2e2"/>
<rect x="1507.21" y="2573.43" width="42.2" height="25.18" fill="#e6f2e2"/>
<rect x="1548.9" y="2573.43" width="42.2" height="25.18" fill="#eaf4e5"/>
<rect x="715" y="2598.1" width="42.2" height="25.18" fill="#e0eedd"/>
<rect x="756.7" y="2598.1" width="42.2" height="25.18" fill="#eaf4e5"/>
<rect x="798.39" y="2598.1" width="42.2" height="25.18" fill="#cbe4cc"/>
<rect x="840.09" y="2598.1" width="42.2" height="25.18" fill="#d7ead6"/>
<rect x="881.78" y="2598.1" width="42.2" height="25.18" fill="#c7e1c9"/>
<rect x="923.48" y="2598.1" width="42.2" height="25.18" fill="#a8d1b0"/>
<rect x="965.17" y="2598.1" width="42.2" height="25.18" fill="#9ecca8"/>
<rect x="1006.87" y="2598.1" width="42.2" height="25.18" fill="#b2d7b8"/>
<rect x="1048.56" y="2598.1" width="42.2" height="25.18" fill="#eaf4e5"/>
<rect x="1090.26" y="2598.1" width="42.2" height="25.18" fill="#d1e7d1"/>
<rect x="1131.95" y="2598.1" width="42.2" height="25.18" fill="#d1e7d1"/>
<rect x="1173.65" y="2598.1" width="42.2" height="25.18" fill="#bddcc1"/>
<rect x="1215.34" y="2598.1" width="42.2" height="25.18" fill="#bddcc1"/>
<rect x="1257.04" y="2598.1" width="42.2" height="25.18" fill="#bddcc1"/>
<rect x="1298.73" y="2598.1" width="42.2" height="25.18" fill="#d1e7d1"/>
<rect x="1340.43" y="2598.1" width="42.2" height="25.18" fill="#b2d7b8"/>
<rect x="1382.12" y="2598.1" width="42.2" height="25.18" fill="#e6f2e2"/>
<rect x="1423.82" y="2598.1" width="42.2" height="25.18" fill="#d1e7d1"/>
<rect x="1465.51" y="2598.1" width="42.2" height="25.18" fill="#bddcc1"/>
<rect x="1507.21" y="2598.1" width="42.2" height="25.18" fill="#e6f2e2"/>
<rect x="1548.9" y="2598.1" width="42.2" height="25.18" fill="#eaf4e5"/>
<rect x="715" y="2622.78" width="42.2" height="25.18" fill="#a8d1b0"/>
<rect x="756.7" y="2622.78" width="42.2" height="25.18" fill="#eaf4e5"/>
<rect x="798.39" y="2622.78" width="42.2" height="25.18" fill="#b2d7b8"/>
<rect x="840.09" y="2622.78" width="42.2" height="25.18" fill="#d1e7d1"/>
<rect x="881.78" y="2622.78" width="42.2" height="25.18" fill="#a8d1b0"/>
<rect x="923.48" y="2622.78" width="42.2" height="25.18" fill="#94c6a0"/>
<rect x="965.17" y="2622.78" width="42.2" height="25.18" fill="#8ac198"/>
<rect x="1006.87" y="2622.78" width="42.2" height="25.18" fill="#8ac198"/>
<rect x="1048.56" y="2622.78" width="42.2" height="25.18" fill="#eaf4e5"/>
<rect x="1090.26" y="2622.78" width="42.2" height="25.18" fill="#8ac198"/>
<rect x="1131.95" y="2622.78" width="42.2" height="25.18" fill="#dcecda"/>
<rect x="1173.65" y="2622.78" width="42.2" height="25.18" fill="#60ab77"/>
<rect x="1215.34" y="2622.78" width="42.2" height="25.18" fill="#94c6a0"/>
<rect x="1257.04" y="2622.78" width="42.2" height="25.18" fill="#d1e7d1"/>
<rect x="1298.73" y="2622.78" width="42.2" height="25.18" fill="#a8d1b0"/>
<rect x="1340.43" y="2622.78" width="42.2" height="25.18" fill="#b2d7b8"/>
<rect x="1382.12" y="2622.78" width="42.2" height="25.18" fill="#a8d1b0"/>
<rect x="1423.82" y="2622.78" width="42.2" height="25.18" fill="#d1e7d1"/>
<rect x="1465.51" y="2622.78" width="42.2" height="25.18" fill="#bddcc1"/>
<rect x="1507.21" y="2622.78" width="42.2" height="25.18" fill="#e6f2e2"/>
<rect x="1548.9" y="2622.78" width="42.2" height="25.18" fill="#eaf4e5"/>
<rect x="715" y="2647.45" width="42.2" height="25.18" fill="#c7e1c9"/>
<rect x="756.7" y="2647.45" width="42.2" height="25.18" fill="#eaf4e5"/>
<rect x="798.39" y="2647.45" width="42.2" height="25.18" fill="#e0eedd"/>
<rect x="840.09" y="2647.45" width="42.2" height="25.18" fill="#e4f1e0"/>
<rect x="881.78" y="2647.45" width="42.2" height="25.18" fill="#dcecda"/>
<rect x="923.48" y="2647.45" width="42.2" height="25.18" fill="#d1e7d1"/>
<rect x="965.17" y="2647.45" width="42.2" height="25.18" fill="#eaf4e5"/>
<rect x="1006.87" y="2647.45" width="42.2" height="25.18" fill="#d1e7d1"/>
<rect x="1048.56" y="2647.45" width="42.2" height="25.18" fill="#eaf4e5"/>
<rect x="1090.26" y="2647.45" width="42.2" height="25.18" fill="#dcecda"/>
<rect x="1131.95" y="2647.45" width="42.2" height="25.18" fill="#eaf4e5"/>
<rect x="1173.65" y="2647.45" width="42.2" height="25.18" fill="#d7ead6"/>
<rect x="1215.34" y="2647.45" width="42.2" height="25.18" fill="#d1e7d1"/>
<rect x="1257.04" y="2647.45" width="42.2" height="25.18" fill="#eaf4e5"/>
<rect x="1298.73" y="2647.45" width="42.2" height="25.18" fill="#dcecda"/>
<rect x="1340.43" y="2647.45" width="42.2" height="25.18" fill="#eaf4e5"/>
<rect x="1382.12" y="2647.45" width="42.2" height="25.18" fill="#eaf4e5"/>
<rect x="1423.82" y="2647.45" width="42.2" height="25.18" fill="#d1e7d1"/>
<rect x="1465.51" y="2647.45" width="42.2" height="25.18" fill="#e6f2e2"/>
<rect x="1507.21" y="2647.45" width="42.2" height="25.18" fill="#e6f2e2"/>
<rect x="1548.9" y="2647.45" width="42.2" height="25.18" fill="#eaf4e5"/>
<rect x="715" y="2672.12" width="42.2" height="25.18" fill="#a8d1b0"/>
<rect x="756.7" y="2672.12" width="42.2" height="25.18" fill="#eaf4e5"/>
<rect x="798.39" y="2672.12" width="42.2" height="25.18" fill="#d1e7d1"/>
<rect x="840.09" y="2672.12" width="42.2" height="25.18" fill="#d7ead6"/>
<rect x="881.78" y="2672.12" width="42.2" height="25.18" fill="#d1e7d1"/>
<rect x="923.48" y="2672.12" width="42.2" height="25.18" fill="#b2d7b8"/>
<rect x="965.17" y="2672.12" width="42.2" height="25.18" fill="#bddcc1"/>
<rect x="1006.87" y="2672.12" width="42.2" height="25.18" fill="#c7e1c9"/>
<rect x="1048.56" y="2672.12" width="42.2" height="25.18" fill="#eaf4e5"/>
<rect x="1090.26" y="2672.12" width="42.2" height="25.18" fill="#c7e1c9"/>
<rect x="1131.95" y="2672.12" width="42.2" height="25.18" fill="#eaf4e5"/>
<rect x="1173.65" y="2672.12" width="42.2" height="25.18" fill="#c7e1c9"/>
<rect x="1215.34" y="2672.12" width="42.2" height="25.18" fill="#b2d7b8"/>
<rect x="1257.04" y="2672.12" width="42.2" height="25.18" fill="#d7ead6"/>
<rect x="1298.73" y="2672.12" width="42.2" height="25.18" fill="#cbe4cc"/>
<rect x="1340.43" y="2672.12" width="42.2" height="25.18" fill="#eaf4e5"/>
<rect x="1382.12" y="2672.12" width="42.2" height="25.18" fill="#eaf4e5"/>
<rect x="1423.82" y="2672.12" width="42.2" height="25.18" fill="#e6f2e2"/>
<rect x="1465.51" y="2672.12" width="42.2" height="25.18" fill="#e6f2e2"/>
<rect x="1507.21" y="2672.12" width="42.2" height="25.18" fill="#e6f2e2"/>
<rect x="1548.9" y="2672.12" width="42.2" height="25.18" fill="#eaf4e5"/>
</g>
<g fill="#2b2b2b" stroke="#2b2b2b" stroke-width=".35" opacity=".92">
<text x="1594.4" y="2322.14" font-size="20.4" textLength="374.2" lengthAdjust="spacingAndGlyphs">Cluster 16 – activated myeloid cells/microglia</text>
<text x="1594.4" y="2346.81" font-size="20.4" textLength="266.5" lengthAdjust="spacingAndGlyphs">Cluster 12 – invading monocytes</text>
<text x="1594.4" y="2371.49" font-size="20.4" textLength="374.2" lengthAdjust="spacingAndGlyphs">Cluster 05 – activated myeloid cells/microglia</text>
<text x="1594.4" y="2396.16" font-size="20.4" textLength="482.8" lengthAdjust="spacingAndGlyphs">Cluster 03 – non pro-inflammatory myeloid cells/microglia</text>
<text x="1594.4" y="2420.84" font-size="20.4" textLength="374.2" lengthAdjust="spacingAndGlyphs">Cluster 02 – activated myeloid cells/microglia</text>
<text x="1594.4" y="2445.51" font-size="20.4" textLength="482.8" lengthAdjust="spacingAndGlyphs">Cluster 08 – non pro-inflammatory myeloid cells/microglia</text>
<text x="1594.4" y="2470.19" font-size="20.4" textLength="374.2" lengthAdjust="spacingAndGlyphs">Cluster 10 – activated myeloid cells/microglia</text>
<text x="1594.4" y="2494.86" font-size="20.4" textLength="482.8" lengthAdjust="spacingAndGlyphs">Cluster 01 – non pro-inflammatory myeloid cells/microglia</text>
<text x="1594.4" y="2519.54" font-size="20.4" textLength="398.7" lengthAdjust="spacingAndGlyphs">Cluster 13 – activated perivascular macrophages</text>
<text x="1594.4" y="2544.21" font-size="20.4" textLength="374.2" lengthAdjust="spacingAndGlyphs">Cluster 06 – activated myeloid cells/microglia</text>
<text x="1594.4" y="2568.89" font-size="20.4" textLength="482.8" lengthAdjust="spacingAndGlyphs">Cluster 15 – non pro-inflammatory myeloid cells/microglia</text>
<text x="1594.4" y="2593.56" font-size="20.4" textLength="482.8" lengthAdjust="spacingAndGlyphs">Cluster 14 – non pro-inflammatory myeloid cells/microglia</text>
<text x="1594.4" y="2618.24" font-size="20.4" textLength="482.8" lengthAdjust="spacingAndGlyphs">Cluster 09 – non pro-inflammatory myeloid cells/microglia</text>
<text x="1594.4" y="2642.91" font-size="20.4" textLength="482.8" lengthAdjust="spacingAndGlyphs">Cluster 07 – non pro-inflammatory myeloid cells/microglia</text>
<text x="1594.4" y="2667.59" font-size="20.4" textLength="482.8" lengthAdjust="spacingAndGlyphs">Cluster 11 – non pro-inflammatory myeloid cells/microglia</text>
<text x="1594.4" y="2692.26" font-size="20.4" textLength="482.8" lengthAdjust="spacingAndGlyphs">Cluster 04 – non pro-inflammatory myeloid cells/microglia</text>
<text transform="translate(747.45 2282.5) rotate(-90)" font-size="22" textLength="38" lengthAdjust="spacingAndGlyphs">Iba1</text>
<text transform="translate(789.14 2282.5) rotate(-90)" font-size="22" textLength="49.1" lengthAdjust="spacingAndGlyphs">FCERI</text>
<text transform="translate(830.84 2282.5) rotate(-90)" font-size="22" textLength="47" lengthAdjust="spacingAndGlyphs">CD74</text>
<text transform="translate(872.53 2282.5) rotate(-90)" font-size="22" textLength="58.2" lengthAdjust="spacingAndGlyphs">CD206</text>
<text transform="translate(914.23 2282.5) rotate(-90)" font-size="22" textLength="58.2" lengthAdjust="spacingAndGlyphs">CD162</text>
<text transform="translate(955.92 2282.5) rotate(-90)" font-size="22" textLength="83.4" lengthAdjust="spacingAndGlyphs">HLA-DRA</text>
<text transform="translate(997.62 2282.5) rotate(-90)" font-size="22" textLength="58.2" lengthAdjust="spacingAndGlyphs">CD11c</text>
<text transform="translate(1039.31 2282.5) rotate(-90)" font-size="22" textLength="82.2" lengthAdjust="spacingAndGlyphs">HLA-DRB</text>
<text transform="translate(1081.01 2282.5) rotate(-90)" font-size="22" textLength="68.5" lengthAdjust="spacingAndGlyphs">INPP5D</text>
<text transform="translate(1122.7 2282.5) rotate(-90)" font-size="22" textLength="68.5" lengthAdjust="spacingAndGlyphs">P2RY12</text>
<text transform="translate(1164.4 2282.5) rotate(-90)" font-size="22" textLength="47" lengthAdjust="spacingAndGlyphs">CD68</text>
<text transform="translate(1206.1 2282.5) rotate(-90)" font-size="22" textLength="94.6" lengthAdjust="spacingAndGlyphs">TMEM119</text>
<text transform="translate(1247.79 2282.5) rotate(-90)" font-size="22" textLength="65.7" lengthAdjust="spacingAndGlyphs">SLC2A5</text>
<text transform="translate(1289.49 2282.5) rotate(-90)" font-size="22" textLength="47" lengthAdjust="spacingAndGlyphs">CD64</text>
<text transform="translate(1331.18 2282.5) rotate(-90)" font-size="22" textLength="76" lengthAdjust="spacingAndGlyphs">SCAMP2</text>
<text transform="translate(1372.88 2282.5) rotate(-90)" font-size="22" textLength="39.6" lengthAdjust="spacingAndGlyphs">MX1</text>
<text transform="translate(1414.57 2282.5) rotate(-90)" font-size="22" textLength="47" lengthAdjust="spacingAndGlyphs">CD45</text>
<text transform="translate(1456.27 2282.5) rotate(-90)" font-size="22" textLength="72.7" lengthAdjust="spacingAndGlyphs">TYROBP</text>
<text transform="translate(1497.96 2282.5) rotate(-90)" font-size="22" textLength="68.5" lengthAdjust="spacingAndGlyphs">HLA-DR</text>
<text transform="translate(1539.66 2282.5) rotate(-90)" font-size="22" textLength="58.2" lengthAdjust="spacingAndGlyphs">CD204</text>
<text transform="translate(1581.35 2282.5) rotate(-90)" font-size="22" textLength="67.7" lengthAdjust="spacingAndGlyphs">S100A9</text>
</g>
<rect x="1613.5" y="2252.5" width="119" height="21.5" fill="url(#hb)" stroke="#e4ece0" stroke-width="1.5"/>
<text x="1616.5" y="2244.5" font-size="12.5" text-anchor="middle" fill="#8a8a8a">0</text>
<text x="1676" y="2244.5" font-size="12.5" text-anchor="middle" fill="#8a8a8a">50</text>
<text x="1729" y="2244.5" font-size="12.5" text-anchor="middle" fill="#8a8a8a">100</text>
</svg></body></html>
